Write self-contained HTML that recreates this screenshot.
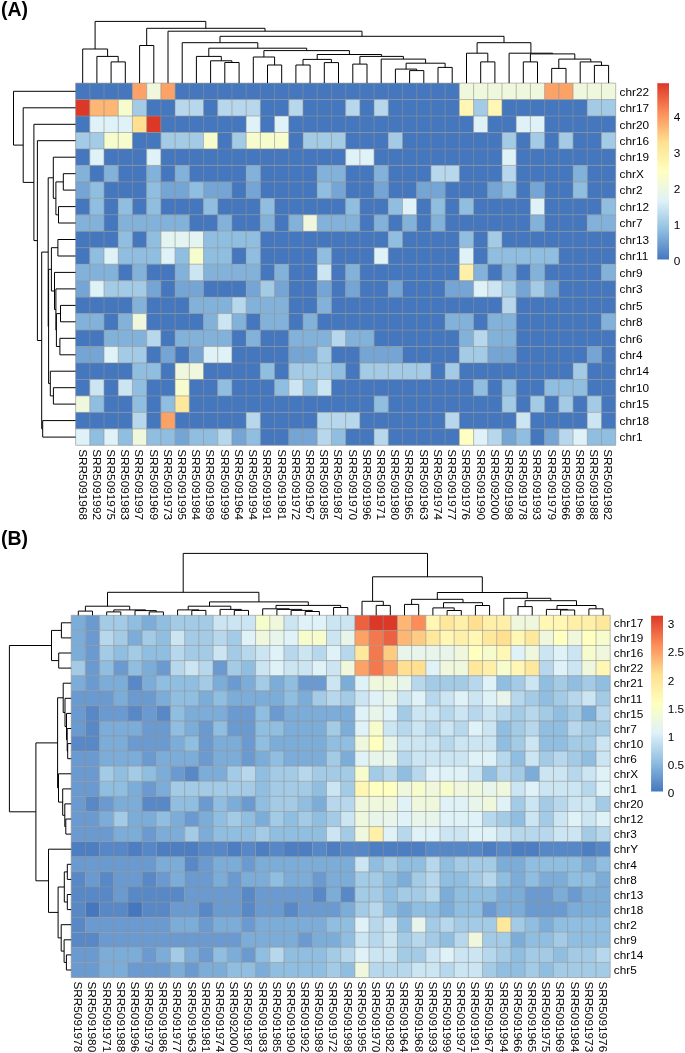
<!DOCTYPE html>
<html><head><meta charset="utf-8"><title>Heatmaps</title>
<style>html,body{margin:0;padding:0;background:#fff}svg{display:block}text{font-family:"Liberation Sans",sans-serif;font-size:11.8px;fill:#000}</style>
</head><body>
<svg width="685" height="1053" viewBox="0 0 685 1053">
<rect width="685" height="1053" fill="#fff"/>
<g opacity="0.999">
<defs><linearGradient id="g" x1="0" y1="1" x2="0" y2="0"><stop offset="0.0000" stop-color="#4577be"/><stop offset="0.1667" stop-color="#8fbee0"/><stop offset="0.3333" stop-color="#dff2f8"/><stop offset="0.5000" stop-color="#ffffbf"/><stop offset="0.6667" stop-color="#fee090"/><stop offset="0.8333" stop-color="#fc8d59"/><stop offset="1.0000" stop-color="#dc3828"/></linearGradient></defs>
<rect x="75.60" y="83.10" width="56.90" height="16.51" fill="#4577be"/>
<rect x="132.45" y="83.10" width="14.26" height="16.51" fill="#fca267"/>
<rect x="146.67" y="83.10" width="14.26" height="16.51" fill="#eff8dc"/>
<rect x="160.88" y="83.10" width="14.26" height="16.51" fill="#fca267"/>
<rect x="175.09" y="83.10" width="284.31" height="16.51" fill="#4577be"/>
<rect x="459.36" y="83.10" width="85.33" height="16.51" fill="#eff8dc"/>
<rect x="544.63" y="83.10" width="28.48" height="16.51" fill="#fca267"/>
<rect x="573.06" y="83.10" width="42.69" height="16.51" fill="#eff8dc"/>
<rect x="75.60" y="99.56" width="14.26" height="16.51" fill="#dc3828"/>
<rect x="89.81" y="99.56" width="28.48" height="16.51" fill="#fdb674"/>
<rect x="118.24" y="99.56" width="14.26" height="16.51" fill="#f7fccd"/>
<rect x="132.45" y="99.56" width="14.26" height="16.51" fill="#a3cbe6"/>
<rect x="146.67" y="99.56" width="28.48" height="16.51" fill="#4577be"/>
<rect x="175.09" y="99.56" width="28.48" height="16.51" fill="#b7d8ec"/>
<rect x="203.52" y="99.56" width="14.26" height="16.51" fill="#4577be"/>
<rect x="217.73" y="99.56" width="42.69" height="16.51" fill="#b7d8ec"/>
<rect x="260.37" y="99.56" width="28.48" height="16.51" fill="#4577be"/>
<rect x="288.80" y="99.56" width="14.26" height="16.51" fill="#b7d8ec"/>
<rect x="303.01" y="99.56" width="42.69" height="16.51" fill="#4577be"/>
<rect x="345.65" y="99.56" width="14.26" height="16.51" fill="#b7d8ec"/>
<rect x="359.86" y="99.56" width="14.26" height="16.51" fill="#4577be"/>
<rect x="374.08" y="99.56" width="14.26" height="16.51" fill="#b7d8ec"/>
<rect x="388.29" y="99.56" width="71.12" height="16.51" fill="#4577be"/>
<rect x="459.36" y="99.56" width="14.26" height="16.51" fill="#fff7b3"/>
<rect x="473.57" y="99.56" width="14.26" height="16.51" fill="#a3cbe6"/>
<rect x="487.78" y="99.56" width="14.26" height="16.51" fill="#fff7b3"/>
<rect x="501.99" y="99.56" width="85.33" height="16.51" fill="#4577be"/>
<rect x="587.27" y="99.56" width="28.48" height="16.51" fill="#a3cbe6"/>
<rect x="75.60" y="116.03" width="14.26" height="16.51" fill="#4577be"/>
<rect x="89.81" y="116.03" width="42.69" height="16.51" fill="#dff2f8"/>
<rect x="132.45" y="116.03" width="14.26" height="16.51" fill="#fee090"/>
<rect x="146.67" y="116.03" width="14.26" height="16.51" fill="#dc3828"/>
<rect x="160.88" y="116.03" width="85.33" height="16.51" fill="#4577be"/>
<rect x="246.16" y="116.03" width="14.26" height="16.51" fill="#dff2f8"/>
<rect x="260.37" y="116.03" width="14.26" height="16.51" fill="#4577be"/>
<rect x="274.58" y="116.03" width="14.26" height="16.51" fill="#dff2f8"/>
<rect x="288.80" y="116.03" width="184.82" height="16.51" fill="#4577be"/>
<rect x="473.57" y="116.03" width="14.26" height="16.51" fill="#dff2f8"/>
<rect x="487.78" y="116.03" width="28.48" height="16.51" fill="#4577be"/>
<rect x="516.21" y="116.03" width="28.48" height="16.51" fill="#dff2f8"/>
<rect x="544.63" y="116.03" width="71.12" height="16.51" fill="#4577be"/>
<rect x="75.60" y="132.49" width="28.48" height="16.51" fill="#a3cbe6"/>
<rect x="104.03" y="132.49" width="28.48" height="16.51" fill="#f7fccd"/>
<rect x="132.45" y="132.49" width="28.48" height="16.51" fill="#4577be"/>
<rect x="160.88" y="132.49" width="42.69" height="16.51" fill="#a3cbe6"/>
<rect x="203.52" y="132.49" width="14.26" height="16.51" fill="#f7fccd"/>
<rect x="217.73" y="132.49" width="14.26" height="16.51" fill="#4577be"/>
<rect x="231.94" y="132.49" width="14.26" height="16.51" fill="#a3cbe6"/>
<rect x="246.16" y="132.49" width="42.69" height="16.51" fill="#f7fccd"/>
<rect x="288.80" y="132.49" width="14.26" height="16.51" fill="#4577be"/>
<rect x="303.01" y="132.49" width="42.69" height="16.51" fill="#a3cbe6"/>
<rect x="345.65" y="132.49" width="42.69" height="16.51" fill="#4577be"/>
<rect x="388.29" y="132.49" width="14.26" height="16.51" fill="#a3cbe6"/>
<rect x="402.50" y="132.49" width="99.54" height="16.51" fill="#4577be"/>
<rect x="501.99" y="132.49" width="14.26" height="16.51" fill="#a3cbe6"/>
<rect x="516.21" y="132.49" width="14.26" height="16.51" fill="#4577be"/>
<rect x="530.42" y="132.49" width="14.26" height="16.51" fill="#a3cbe6"/>
<rect x="544.63" y="132.49" width="14.26" height="16.51" fill="#4577be"/>
<rect x="558.85" y="132.49" width="14.26" height="16.51" fill="#a3cbe6"/>
<rect x="573.06" y="132.49" width="28.48" height="16.51" fill="#4577be"/>
<rect x="601.49" y="132.49" width="14.26" height="16.51" fill="#a3cbe6"/>
<rect x="75.60" y="148.95" width="14.26" height="16.51" fill="#4577be"/>
<rect x="89.81" y="148.95" width="14.26" height="16.51" fill="#dff2f8"/>
<rect x="104.03" y="148.95" width="42.69" height="16.51" fill="#4577be"/>
<rect x="146.67" y="148.95" width="14.26" height="16.51" fill="#dff2f8"/>
<rect x="160.88" y="148.95" width="184.82" height="16.51" fill="#4577be"/>
<rect x="345.65" y="148.95" width="28.48" height="16.51" fill="#dff2f8"/>
<rect x="374.08" y="148.95" width="127.97" height="16.51" fill="#4577be"/>
<rect x="501.99" y="148.95" width="14.26" height="16.51" fill="#dff2f8"/>
<rect x="516.21" y="148.95" width="99.54" height="16.51" fill="#4577be"/>
<rect x="75.60" y="165.42" width="14.26" height="16.51" fill="#82b2da"/>
<rect x="89.81" y="165.42" width="14.26" height="16.51" fill="#4577be"/>
<rect x="104.03" y="165.42" width="14.26" height="16.51" fill="#82b2da"/>
<rect x="118.24" y="165.42" width="28.48" height="16.51" fill="#4577be"/>
<rect x="146.67" y="165.42" width="14.26" height="16.51" fill="#82b2da"/>
<rect x="160.88" y="165.42" width="14.26" height="16.51" fill="#4577be"/>
<rect x="175.09" y="165.42" width="14.26" height="16.51" fill="#82b2da"/>
<rect x="189.31" y="165.42" width="56.90" height="16.51" fill="#4577be"/>
<rect x="246.16" y="165.42" width="14.26" height="16.51" fill="#82b2da"/>
<rect x="260.37" y="165.42" width="56.90" height="16.51" fill="#4577be"/>
<rect x="317.22" y="165.42" width="28.48" height="16.51" fill="#82b2da"/>
<rect x="345.65" y="165.42" width="28.48" height="16.51" fill="#4577be"/>
<rect x="374.08" y="165.42" width="14.26" height="16.51" fill="#82b2da"/>
<rect x="388.29" y="165.42" width="42.69" height="16.51" fill="#4577be"/>
<rect x="430.93" y="165.42" width="28.48" height="16.51" fill="#b7d8ec"/>
<rect x="459.36" y="165.42" width="42.69" height="16.51" fill="#4577be"/>
<rect x="501.99" y="165.42" width="14.26" height="16.51" fill="#b7d8ec"/>
<rect x="516.21" y="165.42" width="56.90" height="16.51" fill="#4577be"/>
<rect x="573.06" y="165.42" width="14.26" height="16.51" fill="#82b2da"/>
<rect x="587.27" y="165.42" width="28.48" height="16.51" fill="#4577be"/>
<rect x="75.60" y="181.88" width="14.26" height="16.51" fill="#75a5d4"/>
<rect x="89.81" y="181.88" width="14.26" height="16.51" fill="#8fbee0"/>
<rect x="104.03" y="181.88" width="42.69" height="16.51" fill="#4577be"/>
<rect x="146.67" y="181.88" width="14.26" height="16.51" fill="#8fbee0"/>
<rect x="160.88" y="181.88" width="28.48" height="16.51" fill="#75a5d4"/>
<rect x="189.31" y="181.88" width="14.26" height="16.51" fill="#8fbee0"/>
<rect x="203.52" y="181.88" width="28.48" height="16.51" fill="#75a5d4"/>
<rect x="231.94" y="181.88" width="14.26" height="16.51" fill="#4577be"/>
<rect x="246.16" y="181.88" width="14.26" height="16.51" fill="#75a5d4"/>
<rect x="260.37" y="181.88" width="56.90" height="16.51" fill="#4577be"/>
<rect x="317.22" y="181.88" width="14.26" height="16.51" fill="#8fbee0"/>
<rect x="331.44" y="181.88" width="14.26" height="16.51" fill="#75a5d4"/>
<rect x="345.65" y="181.88" width="28.48" height="16.51" fill="#4577be"/>
<rect x="374.08" y="181.88" width="14.26" height="16.51" fill="#75a5d4"/>
<rect x="388.29" y="181.88" width="28.48" height="16.51" fill="#4577be"/>
<rect x="416.72" y="181.88" width="28.48" height="16.51" fill="#75a5d4"/>
<rect x="445.14" y="181.88" width="42.69" height="16.51" fill="#4577be"/>
<rect x="487.78" y="181.88" width="14.26" height="16.51" fill="#75a5d4"/>
<rect x="501.99" y="181.88" width="14.26" height="16.51" fill="#8fbee0"/>
<rect x="516.21" y="181.88" width="14.26" height="16.51" fill="#4577be"/>
<rect x="530.42" y="181.88" width="14.26" height="16.51" fill="#75a5d4"/>
<rect x="544.63" y="181.88" width="28.48" height="16.51" fill="#4577be"/>
<rect x="573.06" y="181.88" width="14.26" height="16.51" fill="#8fbee0"/>
<rect x="587.27" y="181.88" width="28.48" height="16.51" fill="#4577be"/>
<rect x="75.60" y="198.35" width="14.26" height="16.51" fill="#4577be"/>
<rect x="89.81" y="198.35" width="14.26" height="16.51" fill="#8fbee0"/>
<rect x="104.03" y="198.35" width="14.26" height="16.51" fill="#4577be"/>
<rect x="118.24" y="198.35" width="14.26" height="16.51" fill="#8fbee0"/>
<rect x="132.45" y="198.35" width="14.26" height="16.51" fill="#4577be"/>
<rect x="146.67" y="198.35" width="14.26" height="16.51" fill="#8fbee0"/>
<rect x="160.88" y="198.35" width="42.69" height="16.51" fill="#4577be"/>
<rect x="203.52" y="198.35" width="14.26" height="16.51" fill="#8fbee0"/>
<rect x="217.73" y="198.35" width="42.69" height="16.51" fill="#4577be"/>
<rect x="260.37" y="198.35" width="14.26" height="16.51" fill="#8fbee0"/>
<rect x="274.58" y="198.35" width="71.12" height="16.51" fill="#4577be"/>
<rect x="345.65" y="198.35" width="14.26" height="16.51" fill="#8fbee0"/>
<rect x="359.86" y="198.35" width="28.48" height="16.51" fill="#4577be"/>
<rect x="388.29" y="198.35" width="14.26" height="16.51" fill="#8fbee0"/>
<rect x="402.50" y="198.35" width="14.26" height="16.51" fill="#dff2f8"/>
<rect x="416.72" y="198.35" width="14.26" height="16.51" fill="#4577be"/>
<rect x="430.93" y="198.35" width="14.26" height="16.51" fill="#8fbee0"/>
<rect x="445.14" y="198.35" width="14.26" height="16.51" fill="#4577be"/>
<rect x="459.36" y="198.35" width="14.26" height="16.51" fill="#8fbee0"/>
<rect x="473.57" y="198.35" width="56.90" height="16.51" fill="#4577be"/>
<rect x="530.42" y="198.35" width="14.26" height="16.51" fill="#dff2f8"/>
<rect x="544.63" y="198.35" width="56.90" height="16.51" fill="#4577be"/>
<rect x="601.49" y="198.35" width="14.26" height="16.51" fill="#8fbee0"/>
<rect x="75.60" y="214.81" width="28.48" height="16.51" fill="#82b2da"/>
<rect x="104.03" y="214.81" width="14.26" height="16.51" fill="#4577be"/>
<rect x="118.24" y="214.81" width="71.12" height="16.51" fill="#82b2da"/>
<rect x="189.31" y="214.81" width="28.48" height="16.51" fill="#4577be"/>
<rect x="217.73" y="214.81" width="14.26" height="16.51" fill="#82b2da"/>
<rect x="231.94" y="214.81" width="28.48" height="16.51" fill="#4577be"/>
<rect x="260.37" y="214.81" width="14.26" height="16.51" fill="#82b2da"/>
<rect x="274.58" y="214.81" width="14.26" height="16.51" fill="#4577be"/>
<rect x="288.80" y="214.81" width="14.26" height="16.51" fill="#82b2da"/>
<rect x="303.01" y="214.81" width="14.26" height="16.51" fill="#eff8dc"/>
<rect x="317.22" y="214.81" width="42.69" height="16.51" fill="#82b2da"/>
<rect x="359.86" y="214.81" width="14.26" height="16.51" fill="#4577be"/>
<rect x="374.08" y="214.81" width="14.26" height="16.51" fill="#82b2da"/>
<rect x="388.29" y="214.81" width="14.26" height="16.51" fill="#4577be"/>
<rect x="402.50" y="214.81" width="14.26" height="16.51" fill="#82b2da"/>
<rect x="416.72" y="214.81" width="14.26" height="16.51" fill="#4577be"/>
<rect x="430.93" y="214.81" width="14.26" height="16.51" fill="#82b2da"/>
<rect x="445.14" y="214.81" width="85.33" height="16.51" fill="#4577be"/>
<rect x="530.42" y="214.81" width="14.26" height="16.51" fill="#82b2da"/>
<rect x="544.63" y="214.81" width="42.69" height="16.51" fill="#4577be"/>
<rect x="587.27" y="214.81" width="28.48" height="16.51" fill="#82b2da"/>
<rect x="75.60" y="231.27" width="42.69" height="16.51" fill="#4577be"/>
<rect x="118.24" y="231.27" width="14.26" height="16.51" fill="#8fbee0"/>
<rect x="132.45" y="231.27" width="14.26" height="16.51" fill="#4577be"/>
<rect x="146.67" y="231.27" width="14.26" height="16.51" fill="#8fbee0"/>
<rect x="160.88" y="231.27" width="42.69" height="16.51" fill="#e3f4f1"/>
<rect x="203.52" y="231.27" width="56.90" height="16.51" fill="#8fbee0"/>
<rect x="260.37" y="231.27" width="127.97" height="16.51" fill="#4577be"/>
<rect x="388.29" y="231.27" width="14.26" height="16.51" fill="#8fbee0"/>
<rect x="402.50" y="231.27" width="56.90" height="16.51" fill="#4577be"/>
<rect x="459.36" y="231.27" width="14.26" height="16.51" fill="#8fbee0"/>
<rect x="473.57" y="231.27" width="14.26" height="16.51" fill="#4577be"/>
<rect x="487.78" y="231.27" width="14.26" height="16.51" fill="#a3cbe6"/>
<rect x="501.99" y="231.27" width="113.76" height="16.51" fill="#4577be"/>
<rect x="75.60" y="247.74" width="14.26" height="16.51" fill="#4577be"/>
<rect x="89.81" y="247.74" width="14.26" height="16.51" fill="#8fbee0"/>
<rect x="104.03" y="247.74" width="14.26" height="16.51" fill="#dff2f8"/>
<rect x="118.24" y="247.74" width="42.69" height="16.51" fill="#8fbee0"/>
<rect x="160.88" y="247.74" width="14.26" height="16.51" fill="#dff2f8"/>
<rect x="175.09" y="247.74" width="14.26" height="16.51" fill="#8fbee0"/>
<rect x="189.31" y="247.74" width="14.26" height="16.51" fill="#f7fccd"/>
<rect x="203.52" y="247.74" width="28.48" height="16.51" fill="#8fbee0"/>
<rect x="231.94" y="247.74" width="14.26" height="16.51" fill="#4577be"/>
<rect x="246.16" y="247.74" width="14.26" height="16.51" fill="#8fbee0"/>
<rect x="260.37" y="247.74" width="56.90" height="16.51" fill="#4577be"/>
<rect x="317.22" y="247.74" width="14.26" height="16.51" fill="#8fbee0"/>
<rect x="331.44" y="247.74" width="42.69" height="16.51" fill="#4577be"/>
<rect x="374.08" y="247.74" width="14.26" height="16.51" fill="#dff2f8"/>
<rect x="388.29" y="247.74" width="71.12" height="16.51" fill="#4577be"/>
<rect x="459.36" y="247.74" width="14.26" height="16.51" fill="#dff2f8"/>
<rect x="473.57" y="247.74" width="14.26" height="16.51" fill="#4577be"/>
<rect x="487.78" y="247.74" width="71.12" height="16.51" fill="#8fbee0"/>
<rect x="558.85" y="247.74" width="56.90" height="16.51" fill="#4577be"/>
<rect x="75.60" y="264.20" width="42.69" height="16.51" fill="#82b2da"/>
<rect x="118.24" y="264.20" width="14.26" height="16.51" fill="#4577be"/>
<rect x="132.45" y="264.20" width="14.26" height="16.51" fill="#82b2da"/>
<rect x="146.67" y="264.20" width="28.48" height="16.51" fill="#4577be"/>
<rect x="175.09" y="264.20" width="14.26" height="16.51" fill="#82b2da"/>
<rect x="189.31" y="264.20" width="14.26" height="16.51" fill="#cbe5f2"/>
<rect x="203.52" y="264.20" width="56.90" height="16.51" fill="#82b2da"/>
<rect x="260.37" y="264.20" width="14.26" height="16.51" fill="#4577be"/>
<rect x="274.58" y="264.20" width="14.26" height="16.51" fill="#82b2da"/>
<rect x="288.80" y="264.20" width="28.48" height="16.51" fill="#4577be"/>
<rect x="317.22" y="264.20" width="14.26" height="16.51" fill="#cbe5f2"/>
<rect x="331.44" y="264.20" width="14.26" height="16.51" fill="#4577be"/>
<rect x="345.65" y="264.20" width="14.26" height="16.51" fill="#82b2da"/>
<rect x="359.86" y="264.20" width="99.54" height="16.51" fill="#4577be"/>
<rect x="459.36" y="264.20" width="14.26" height="16.51" fill="#fef0a8"/>
<rect x="473.57" y="264.20" width="14.26" height="16.51" fill="#82b2da"/>
<rect x="487.78" y="264.20" width="14.26" height="16.51" fill="#4577be"/>
<rect x="501.99" y="264.20" width="14.26" height="16.51" fill="#82b2da"/>
<rect x="516.21" y="264.20" width="14.26" height="16.51" fill="#4577be"/>
<rect x="530.42" y="264.20" width="14.26" height="16.51" fill="#82b2da"/>
<rect x="544.63" y="264.20" width="56.90" height="16.51" fill="#4577be"/>
<rect x="601.49" y="264.20" width="14.26" height="16.51" fill="#82b2da"/>
<rect x="75.60" y="280.66" width="14.26" height="16.51" fill="#75a5d4"/>
<rect x="89.81" y="280.66" width="14.26" height="16.51" fill="#dff2f8"/>
<rect x="104.03" y="280.66" width="42.69" height="16.51" fill="#a3cbe6"/>
<rect x="146.67" y="280.66" width="14.26" height="16.51" fill="#75a5d4"/>
<rect x="160.88" y="280.66" width="14.26" height="16.51" fill="#4577be"/>
<rect x="175.09" y="280.66" width="28.48" height="16.51" fill="#75a5d4"/>
<rect x="203.52" y="280.66" width="42.69" height="16.51" fill="#4577be"/>
<rect x="246.16" y="280.66" width="14.26" height="16.51" fill="#75a5d4"/>
<rect x="260.37" y="280.66" width="14.26" height="16.51" fill="#a3cbe6"/>
<rect x="274.58" y="280.66" width="14.26" height="16.51" fill="#75a5d4"/>
<rect x="288.80" y="280.66" width="28.48" height="16.51" fill="#4577be"/>
<rect x="317.22" y="280.66" width="14.26" height="16.51" fill="#75a5d4"/>
<rect x="331.44" y="280.66" width="14.26" height="16.51" fill="#4577be"/>
<rect x="345.65" y="280.66" width="14.26" height="16.51" fill="#75a5d4"/>
<rect x="359.86" y="280.66" width="28.48" height="16.51" fill="#4577be"/>
<rect x="388.29" y="280.66" width="14.26" height="16.51" fill="#75a5d4"/>
<rect x="402.50" y="280.66" width="42.69" height="16.51" fill="#4577be"/>
<rect x="445.14" y="280.66" width="28.48" height="16.51" fill="#75a5d4"/>
<rect x="473.57" y="280.66" width="14.26" height="16.51" fill="#dff2f8"/>
<rect x="487.78" y="280.66" width="14.26" height="16.51" fill="#cbe5f2"/>
<rect x="501.99" y="280.66" width="14.26" height="16.51" fill="#a3cbe6"/>
<rect x="516.21" y="280.66" width="14.26" height="16.51" fill="#75a5d4"/>
<rect x="530.42" y="280.66" width="14.26" height="16.51" fill="#a3cbe6"/>
<rect x="544.63" y="280.66" width="14.26" height="16.51" fill="#75a5d4"/>
<rect x="558.85" y="280.66" width="56.90" height="16.51" fill="#4577be"/>
<rect x="75.60" y="297.13" width="56.90" height="16.51" fill="#4577be"/>
<rect x="132.45" y="297.13" width="14.26" height="16.51" fill="#82b2da"/>
<rect x="146.67" y="297.13" width="42.69" height="16.51" fill="#4577be"/>
<rect x="189.31" y="297.13" width="42.69" height="16.51" fill="#82b2da"/>
<rect x="231.94" y="297.13" width="14.26" height="16.51" fill="#b7d8ec"/>
<rect x="246.16" y="297.13" width="42.69" height="16.51" fill="#82b2da"/>
<rect x="288.80" y="297.13" width="28.48" height="16.51" fill="#4577be"/>
<rect x="317.22" y="297.13" width="14.26" height="16.51" fill="#82b2da"/>
<rect x="331.44" y="297.13" width="170.61" height="16.51" fill="#4577be"/>
<rect x="501.99" y="297.13" width="14.26" height="16.51" fill="#b7d8ec"/>
<rect x="516.21" y="297.13" width="99.54" height="16.51" fill="#4577be"/>
<rect x="75.60" y="313.59" width="28.48" height="16.51" fill="#82b2da"/>
<rect x="104.03" y="313.59" width="14.26" height="16.51" fill="#4577be"/>
<rect x="118.24" y="313.59" width="14.26" height="16.51" fill="#82b2da"/>
<rect x="132.45" y="313.59" width="14.26" height="16.51" fill="#eff8dc"/>
<rect x="146.67" y="313.59" width="56.90" height="16.51" fill="#4577be"/>
<rect x="203.52" y="313.59" width="14.26" height="16.51" fill="#82b2da"/>
<rect x="217.73" y="313.59" width="14.26" height="16.51" fill="#cbe5f2"/>
<rect x="231.94" y="313.59" width="14.26" height="16.51" fill="#82b2da"/>
<rect x="246.16" y="313.59" width="14.26" height="16.51" fill="#4577be"/>
<rect x="260.37" y="313.59" width="28.48" height="16.51" fill="#82b2da"/>
<rect x="288.80" y="313.59" width="14.26" height="16.51" fill="#4577be"/>
<rect x="303.01" y="313.59" width="14.26" height="16.51" fill="#82b2da"/>
<rect x="317.22" y="313.59" width="127.97" height="16.51" fill="#4577be"/>
<rect x="445.14" y="313.59" width="28.48" height="16.51" fill="#82b2da"/>
<rect x="473.57" y="313.59" width="14.26" height="16.51" fill="#4577be"/>
<rect x="487.78" y="313.59" width="28.48" height="16.51" fill="#82b2da"/>
<rect x="516.21" y="313.59" width="85.33" height="16.51" fill="#4577be"/>
<rect x="601.49" y="313.59" width="14.26" height="16.51" fill="#82b2da"/>
<rect x="75.60" y="330.05" width="28.48" height="16.51" fill="#4577be"/>
<rect x="104.03" y="330.05" width="42.69" height="16.51" fill="#82b2da"/>
<rect x="146.67" y="330.05" width="14.26" height="16.51" fill="#b7d8ec"/>
<rect x="160.88" y="330.05" width="14.26" height="16.51" fill="#4577be"/>
<rect x="175.09" y="330.05" width="56.90" height="16.51" fill="#82b2da"/>
<rect x="231.94" y="330.05" width="14.26" height="16.51" fill="#4577be"/>
<rect x="246.16" y="330.05" width="14.26" height="16.51" fill="#82b2da"/>
<rect x="260.37" y="330.05" width="28.48" height="16.51" fill="#4577be"/>
<rect x="288.80" y="330.05" width="42.69" height="16.51" fill="#82b2da"/>
<rect x="331.44" y="330.05" width="14.26" height="16.51" fill="#b7d8ec"/>
<rect x="345.65" y="330.05" width="28.48" height="16.51" fill="#82b2da"/>
<rect x="374.08" y="330.05" width="85.33" height="16.51" fill="#4577be"/>
<rect x="459.36" y="330.05" width="14.26" height="16.51" fill="#82b2da"/>
<rect x="473.57" y="330.05" width="14.26" height="16.51" fill="#b7d8ec"/>
<rect x="487.78" y="330.05" width="28.48" height="16.51" fill="#82b2da"/>
<rect x="516.21" y="330.05" width="99.54" height="16.51" fill="#4577be"/>
<rect x="75.60" y="346.52" width="28.48" height="16.51" fill="#75a5d4"/>
<rect x="104.03" y="346.52" width="14.26" height="16.51" fill="#dff2f8"/>
<rect x="118.24" y="346.52" width="28.48" height="16.51" fill="#a3cbe6"/>
<rect x="146.67" y="346.52" width="14.26" height="16.51" fill="#4577be"/>
<rect x="160.88" y="346.52" width="14.26" height="16.51" fill="#75a5d4"/>
<rect x="175.09" y="346.52" width="14.26" height="16.51" fill="#4577be"/>
<rect x="189.31" y="346.52" width="14.26" height="16.51" fill="#75a5d4"/>
<rect x="203.52" y="346.52" width="28.48" height="16.51" fill="#dff2f8"/>
<rect x="231.94" y="346.52" width="56.90" height="16.51" fill="#4577be"/>
<rect x="288.80" y="346.52" width="28.48" height="16.51" fill="#75a5d4"/>
<rect x="317.22" y="346.52" width="14.26" height="16.51" fill="#a3cbe6"/>
<rect x="331.44" y="346.52" width="28.48" height="16.51" fill="#4577be"/>
<rect x="359.86" y="346.52" width="42.69" height="16.51" fill="#75a5d4"/>
<rect x="402.50" y="346.52" width="56.90" height="16.51" fill="#4577be"/>
<rect x="459.36" y="346.52" width="28.48" height="16.51" fill="#a3cbe6"/>
<rect x="487.78" y="346.52" width="28.48" height="16.51" fill="#75a5d4"/>
<rect x="516.21" y="346.52" width="71.12" height="16.51" fill="#4577be"/>
<rect x="587.27" y="346.52" width="14.26" height="16.51" fill="#75a5d4"/>
<rect x="601.49" y="346.52" width="14.26" height="16.51" fill="#4577be"/>
<rect x="75.60" y="362.98" width="56.90" height="16.51" fill="#4577be"/>
<rect x="132.45" y="362.98" width="28.48" height="16.51" fill="#8fbee0"/>
<rect x="160.88" y="362.98" width="14.26" height="16.51" fill="#4577be"/>
<rect x="175.09" y="362.98" width="28.48" height="16.51" fill="#eff8dc"/>
<rect x="203.52" y="362.98" width="56.90" height="16.51" fill="#4577be"/>
<rect x="260.37" y="362.98" width="14.26" height="16.51" fill="#8fbee0"/>
<rect x="274.58" y="362.98" width="14.26" height="16.51" fill="#4577be"/>
<rect x="288.80" y="362.98" width="42.69" height="16.51" fill="#a3cbe6"/>
<rect x="331.44" y="362.98" width="14.26" height="16.51" fill="#8fbee0"/>
<rect x="345.65" y="362.98" width="14.26" height="16.51" fill="#4577be"/>
<rect x="359.86" y="362.98" width="71.12" height="16.51" fill="#a3cbe6"/>
<rect x="430.93" y="362.98" width="14.26" height="16.51" fill="#4577be"/>
<rect x="445.14" y="362.98" width="14.26" height="16.51" fill="#a3cbe6"/>
<rect x="459.36" y="362.98" width="113.76" height="16.51" fill="#4577be"/>
<rect x="573.06" y="362.98" width="14.26" height="16.51" fill="#a3cbe6"/>
<rect x="587.27" y="362.98" width="28.48" height="16.51" fill="#4577be"/>
<rect x="75.60" y="379.45" width="14.26" height="16.51" fill="#4577be"/>
<rect x="89.81" y="379.45" width="14.26" height="16.51" fill="#cbe5f2"/>
<rect x="104.03" y="379.45" width="14.26" height="16.51" fill="#4577be"/>
<rect x="118.24" y="379.45" width="14.26" height="16.51" fill="#cbe5f2"/>
<rect x="132.45" y="379.45" width="14.26" height="16.51" fill="#8fbee0"/>
<rect x="146.67" y="379.45" width="28.48" height="16.51" fill="#4577be"/>
<rect x="175.09" y="379.45" width="14.26" height="16.51" fill="#f7fccd"/>
<rect x="189.31" y="379.45" width="28.48" height="16.51" fill="#4577be"/>
<rect x="217.73" y="379.45" width="14.26" height="16.51" fill="#8fbee0"/>
<rect x="231.94" y="379.45" width="42.69" height="16.51" fill="#4577be"/>
<rect x="274.58" y="379.45" width="14.26" height="16.51" fill="#8fbee0"/>
<rect x="288.80" y="379.45" width="14.26" height="16.51" fill="#cbe5f2"/>
<rect x="303.01" y="379.45" width="14.26" height="16.51" fill="#8fbee0"/>
<rect x="317.22" y="379.45" width="14.26" height="16.51" fill="#cbe5f2"/>
<rect x="331.44" y="379.45" width="142.18" height="16.51" fill="#4577be"/>
<rect x="473.57" y="379.45" width="14.26" height="16.51" fill="#8fbee0"/>
<rect x="487.78" y="379.45" width="14.26" height="16.51" fill="#4577be"/>
<rect x="501.99" y="379.45" width="14.26" height="16.51" fill="#8fbee0"/>
<rect x="516.21" y="379.45" width="28.48" height="16.51" fill="#4577be"/>
<rect x="544.63" y="379.45" width="42.69" height="16.51" fill="#8fbee0"/>
<rect x="587.27" y="379.45" width="28.48" height="16.51" fill="#4577be"/>
<rect x="75.60" y="395.91" width="14.26" height="16.51" fill="#eff8dc"/>
<rect x="89.81" y="395.91" width="14.26" height="16.51" fill="#8fbee0"/>
<rect x="104.03" y="395.91" width="28.48" height="16.51" fill="#4577be"/>
<rect x="132.45" y="395.91" width="14.26" height="16.51" fill="#8fbee0"/>
<rect x="146.67" y="395.91" width="14.26" height="16.51" fill="#4577be"/>
<rect x="160.88" y="395.91" width="14.26" height="16.51" fill="#8fbee0"/>
<rect x="175.09" y="395.91" width="14.26" height="16.51" fill="#fee89c"/>
<rect x="189.31" y="395.91" width="184.82" height="16.51" fill="#4577be"/>
<rect x="374.08" y="395.91" width="14.26" height="16.51" fill="#8fbee0"/>
<rect x="388.29" y="395.91" width="113.76" height="16.51" fill="#4577be"/>
<rect x="501.99" y="395.91" width="14.26" height="16.51" fill="#a3cbe6"/>
<rect x="516.21" y="395.91" width="14.26" height="16.51" fill="#4577be"/>
<rect x="530.42" y="395.91" width="14.26" height="16.51" fill="#a3cbe6"/>
<rect x="544.63" y="395.91" width="14.26" height="16.51" fill="#4577be"/>
<rect x="558.85" y="395.91" width="14.26" height="16.51" fill="#a3cbe6"/>
<rect x="573.06" y="395.91" width="14.26" height="16.51" fill="#4577be"/>
<rect x="587.27" y="395.91" width="14.26" height="16.51" fill="#a3cbe6"/>
<rect x="601.49" y="395.91" width="14.26" height="16.51" fill="#4577be"/>
<rect x="75.60" y="412.37" width="56.90" height="16.51" fill="#4577be"/>
<rect x="132.45" y="412.37" width="14.26" height="16.51" fill="#b7d8ec"/>
<rect x="146.67" y="412.37" width="14.26" height="16.51" fill="#4577be"/>
<rect x="160.88" y="412.37" width="14.26" height="16.51" fill="#fca267"/>
<rect x="175.09" y="412.37" width="71.12" height="16.51" fill="#4577be"/>
<rect x="246.16" y="412.37" width="14.26" height="16.51" fill="#b7d8ec"/>
<rect x="260.37" y="412.37" width="56.90" height="16.51" fill="#4577be"/>
<rect x="317.22" y="412.37" width="42.69" height="16.51" fill="#b7d8ec"/>
<rect x="359.86" y="412.37" width="85.33" height="16.51" fill="#4577be"/>
<rect x="445.14" y="412.37" width="14.26" height="16.51" fill="#b7d8ec"/>
<rect x="459.36" y="412.37" width="56.90" height="16.51" fill="#4577be"/>
<rect x="516.21" y="412.37" width="14.26" height="16.51" fill="#cbe5f2"/>
<rect x="530.42" y="412.37" width="56.90" height="16.51" fill="#4577be"/>
<rect x="587.27" y="412.37" width="14.26" height="16.51" fill="#cbe5f2"/>
<rect x="601.49" y="412.37" width="14.26" height="16.51" fill="#4577be"/>
<rect x="75.60" y="428.84" width="14.26" height="16.51" fill="#dff2f8"/>
<rect x="89.81" y="428.84" width="14.26" height="16.51" fill="#8fbee0"/>
<rect x="104.03" y="428.84" width="14.26" height="16.51" fill="#dff2f8"/>
<rect x="118.24" y="428.84" width="14.26" height="16.51" fill="#8fbee0"/>
<rect x="132.45" y="428.84" width="14.26" height="16.51" fill="#eff8dc"/>
<rect x="146.67" y="428.84" width="28.48" height="16.51" fill="#8fbee0"/>
<rect x="175.09" y="428.84" width="14.26" height="16.51" fill="#75a5d4"/>
<rect x="189.31" y="428.84" width="28.48" height="16.51" fill="#8fbee0"/>
<rect x="217.73" y="428.84" width="14.26" height="16.51" fill="#b7d8ec"/>
<rect x="231.94" y="428.84" width="14.26" height="16.51" fill="#75a5d4"/>
<rect x="246.16" y="428.84" width="14.26" height="16.51" fill="#8fbee0"/>
<rect x="260.37" y="428.84" width="28.48" height="16.51" fill="#4577be"/>
<rect x="288.80" y="428.84" width="28.48" height="16.51" fill="#75a5d4"/>
<rect x="317.22" y="428.84" width="14.26" height="16.51" fill="#b7d8ec"/>
<rect x="331.44" y="428.84" width="14.26" height="16.51" fill="#8fbee0"/>
<rect x="345.65" y="428.84" width="28.48" height="16.51" fill="#4577be"/>
<rect x="374.08" y="428.84" width="14.26" height="16.51" fill="#b7d8ec"/>
<rect x="388.29" y="428.84" width="71.12" height="16.51" fill="#4577be"/>
<rect x="459.36" y="428.84" width="14.26" height="16.51" fill="#ffffbf"/>
<rect x="473.57" y="428.84" width="14.26" height="16.51" fill="#dff2f8"/>
<rect x="487.78" y="428.84" width="14.26" height="16.51" fill="#b7d8ec"/>
<rect x="501.99" y="428.84" width="14.26" height="16.51" fill="#75a5d4"/>
<rect x="516.21" y="428.84" width="14.26" height="16.51" fill="#8fbee0"/>
<rect x="530.42" y="428.84" width="14.26" height="16.51" fill="#4577be"/>
<rect x="544.63" y="428.84" width="14.26" height="16.51" fill="#75a5d4"/>
<rect x="558.85" y="428.84" width="14.26" height="16.51" fill="#b7d8ec"/>
<rect x="573.06" y="428.84" width="14.26" height="16.51" fill="#dff2f8"/>
<rect x="587.27" y="428.84" width="28.48" height="16.51" fill="#8fbee0"/>
<path d="M75.60 83.10V445.30M89.81 83.10V445.30M104.03 83.10V445.30M118.24 83.10V445.30M132.45 83.10V445.30M146.67 83.10V445.30M160.88 83.10V445.30M175.09 83.10V445.30M189.31 83.10V445.30M203.52 83.10V445.30M217.73 83.10V445.30M231.94 83.10V445.30M246.16 83.10V445.30M260.37 83.10V445.30M274.58 83.10V445.30M288.80 83.10V445.30M303.01 83.10V445.30M317.22 83.10V445.30M331.44 83.10V445.30M345.65 83.10V445.30M359.86 83.10V445.30M374.08 83.10V445.30M388.29 83.10V445.30M402.50 83.10V445.30M416.72 83.10V445.30M430.93 83.10V445.30M445.14 83.10V445.30M459.36 83.10V445.30M473.57 83.10V445.30M487.78 83.10V445.30M501.99 83.10V445.30M516.21 83.10V445.30M530.42 83.10V445.30M544.63 83.10V445.30M558.85 83.10V445.30M573.06 83.10V445.30M587.27 83.10V445.30M601.49 83.10V445.30M615.70 83.10V445.30M75.60 83.10H615.70M75.60 99.56H615.70M75.60 116.03H615.70M75.60 132.49H615.70M75.60 148.95H615.70M75.60 165.42H615.70M75.60 181.88H615.70M75.60 198.35H615.70M75.60 214.81H615.70M75.60 231.27H615.70M75.60 247.74H615.70M75.60 264.20H615.70M75.60 280.66H615.70M75.60 297.13H615.70M75.60 313.59H615.70M75.60 330.05H615.70M75.60 346.52H615.70M75.60 362.98H615.70M75.60 379.45H615.70M75.60 395.91H615.70M75.60 412.37H615.70M75.60 428.84H615.70M75.60 445.30H615.70" stroke="#919191" stroke-width="0.6" fill="none"/>
<path d="M111.1 83.1V61.9H125.3V83.1M96.9 83.1V56.4H118.2V61.9M82.7 83.1V49.0H107.6V56.4M139.6 83.1V45.5H153.8V83.1M224.8 83.1V62.5H239.1V83.1M210.6 83.1V60.8H231.9V62.5M196.4 83.1V56.4H221.3V60.8M267.5 83.1V65.0H281.7V83.1M253.3 83.1V57.0H274.6V65.0M295.9 83.1V65.0H310.1V83.1M324.3 83.1V62.6H338.5V83.1M303.0 65.0V59.4H331.4V62.6M352.8 83.1V64.1H367.0V83.1M409.6 83.1V70.6H423.8V83.1M395.4 83.1V69.1H416.7V70.6M438.0 83.1V67.4H452.2V83.1M406.1 69.1V63.2H445.1V67.4M381.2 83.1V59.1H425.6V63.2M359.9 64.1V56.4H403.4V59.1M317.2 59.4V54.5H381.6V56.4M263.9 57.0V50.6H349.4V54.5M208.8 56.4V48.2H306.7V50.6M182.2 83.1V42.7H257.8V48.2M480.7 83.1V61.9H494.9V83.1M466.5 83.1V53.2H487.8V61.9M523.3 83.1V61.9H537.5V83.1M551.7 83.1V68.4H566.0V83.1M594.4 83.1V65.4H608.6V83.1M580.2 83.1V61.9H601.5V65.4M558.8 68.4V59.1H590.8V61.9M530.4 61.9V53.9H574.8V59.1M509.1 83.1V53.2H552.6V53.9M477.1 53.2V42.7H530.9V53.2M220.0 42.7V36.3H504.0V42.7M168.0 83.1V31.2H362.0V36.3M146.7 45.5V28.3H265.0V31.2M95.1 49.0V21.4H205.8V28.3" stroke="#000" stroke-width="1" fill="none" stroke-linejoin="miter"/>
<path d="M75.6 173.7H63.3V190.1H75.6M75.6 206.6H58.5V223.0H75.6M63.3 181.9H55.9V214.8H58.5M75.6 157.2H53.3V198.3H55.9M75.6 239.5H57.9V256.0H75.6M75.6 305.4H60.5V321.8H75.6M75.6 338.3H59.9V354.8H75.6M60.5 313.6H56.4V346.5H59.9M75.6 288.9H55.9V330.1H56.4M75.6 272.4H54.5V309.5H55.9M57.9 247.7H51.4V291.0H54.5M75.6 387.7H53.4V404.1H75.6M75.6 371.2H50.3V395.9H53.4M51.4 269.3H48.6V383.6H50.3M53.3 177.8H48.2V326.5H48.6M75.6 420.6H42.7V437.1H75.6M48.2 252.1H41.7V428.8H42.7M75.6 140.7H37.4V340.5H41.7M75.6 124.3H33.9V240.6H37.4M75.6 107.8H23.2V182.4H33.9M75.6 91.3H13.5V145.1H23.2" stroke="#000" stroke-width="1" fill="none"/>
<text x="619.6" y="95.5">chr22</text>
<text x="619.6" y="112.0">chr17</text>
<text x="619.6" y="128.5">chr20</text>
<text x="619.6" y="144.9">chr16</text>
<text x="619.6" y="161.4">chr19</text>
<text x="619.6" y="177.8">chrX</text>
<text x="619.6" y="194.3">chr2</text>
<text x="619.6" y="210.8">chr12</text>
<text x="619.6" y="227.2">chr7</text>
<text x="619.6" y="243.7">chr13</text>
<text x="619.6" y="260.2">chr11</text>
<text x="619.6" y="276.6">chr9</text>
<text x="619.6" y="293.1">chr3</text>
<text x="619.6" y="309.6">chr5</text>
<text x="619.6" y="326.0">chr8</text>
<text x="619.6" y="342.5">chr6</text>
<text x="619.6" y="358.9">chr4</text>
<text x="619.6" y="375.4">chr14</text>
<text x="619.6" y="391.9">chr10</text>
<text x="619.6" y="408.3">chr15</text>
<text x="619.6" y="424.8">chr18</text>
<text x="619.6" y="441.3">chr1</text>
<text transform="translate(78.5 449.2) rotate(90)">SRR5091968</text>
<text transform="translate(92.7 449.2) rotate(90)">SRR5091992</text>
<text transform="translate(106.9 449.2) rotate(90)">SRR5091975</text>
<text transform="translate(121.1 449.2) rotate(90)">SRR5091983</text>
<text transform="translate(135.4 449.2) rotate(90)">SRR5091997</text>
<text transform="translate(149.6 449.2) rotate(90)">SRR5091969</text>
<text transform="translate(163.8 449.2) rotate(90)">SRR5091973</text>
<text transform="translate(178.0 449.2) rotate(90)">SRR5091995</text>
<text transform="translate(192.2 449.2) rotate(90)">SRR5091984</text>
<text transform="translate(206.4 449.2) rotate(90)">SRR5091989</text>
<text transform="translate(220.6 449.2) rotate(90)">SRR5091999</text>
<text transform="translate(234.9 449.2) rotate(90)">SRR5091964</text>
<text transform="translate(249.1 449.2) rotate(90)">SRR5091994</text>
<text transform="translate(263.3 449.2) rotate(90)">SRR5091991</text>
<text transform="translate(277.5 449.2) rotate(90)">SRR5091981</text>
<text transform="translate(291.7 449.2) rotate(90)">SRR5091972</text>
<text transform="translate(305.9 449.2) rotate(90)">SRR5091967</text>
<text transform="translate(320.1 449.2) rotate(90)">SRR5091985</text>
<text transform="translate(334.3 449.2) rotate(90)">SRR5091987</text>
<text transform="translate(348.6 449.2) rotate(90)">SRR5091970</text>
<text transform="translate(362.8 449.2) rotate(90)">SRR5091996</text>
<text transform="translate(377.0 449.2) rotate(90)">SRR5091971</text>
<text transform="translate(391.2 449.2) rotate(90)">SRR5091980</text>
<text transform="translate(405.4 449.2) rotate(90)">SRR5091965</text>
<text transform="translate(419.6 449.2) rotate(90)">SRR5091963</text>
<text transform="translate(433.8 449.2) rotate(90)">SRR5091974</text>
<text transform="translate(448.0 449.2) rotate(90)">SRR5091977</text>
<text transform="translate(462.3 449.2) rotate(90)">SRR5091976</text>
<text transform="translate(476.5 449.2) rotate(90)">SRR5091990</text>
<text transform="translate(490.7 449.2) rotate(90)">SRR5092000</text>
<text transform="translate(504.9 449.2) rotate(90)">SRR5091998</text>
<text transform="translate(519.1 449.2) rotate(90)">SRR5091978</text>
<text transform="translate(533.3 449.2) rotate(90)">SRR5091993</text>
<text transform="translate(547.5 449.2) rotate(90)">SRR5091979</text>
<text transform="translate(561.8 449.2) rotate(90)">SRR5091966</text>
<text transform="translate(576.0 449.2) rotate(90)">SRR5091986</text>
<text transform="translate(590.2 449.2) rotate(90)">SRR5091988</text>
<text transform="translate(604.4 449.2) rotate(90)">SRR5091982</text>
<rect x="71.20" y="615.30" width="14.23" height="15.14" fill="#7cacd8"/>
<rect x="85.38" y="615.30" width="14.23" height="15.14" fill="#6a9acf"/>
<rect x="99.57" y="615.30" width="28.42" height="15.14" fill="#a3cbe6"/>
<rect x="127.94" y="615.30" width="14.23" height="15.14" fill="#8fbee0"/>
<rect x="142.12" y="615.30" width="14.23" height="15.14" fill="#7cacd8"/>
<rect x="156.31" y="615.30" width="14.23" height="15.14" fill="#8fbee0"/>
<rect x="170.49" y="615.30" width="42.60" height="15.14" fill="#a3cbe6"/>
<rect x="213.04" y="615.30" width="42.60" height="15.14" fill="#cbe5f2"/>
<rect x="255.59" y="615.30" width="14.23" height="15.14" fill="#f7fccd"/>
<rect x="269.78" y="615.30" width="14.23" height="15.14" fill="#eff8dc"/>
<rect x="283.96" y="615.30" width="14.23" height="15.14" fill="#cbe5f2"/>
<rect x="298.15" y="615.30" width="28.42" height="15.14" fill="#dff2f8"/>
<rect x="326.52" y="615.30" width="28.42" height="15.14" fill="#cbe5f2"/>
<rect x="354.88" y="615.30" width="14.23" height="15.14" fill="#ec6240"/>
<rect x="369.07" y="615.30" width="28.42" height="15.14" fill="#dc3828"/>
<rect x="397.44" y="615.30" width="14.23" height="15.14" fill="#fdb674"/>
<rect x="411.62" y="615.30" width="14.23" height="15.14" fill="#fc8d59"/>
<rect x="425.81" y="615.30" width="14.23" height="15.14" fill="#fff7b3"/>
<rect x="439.99" y="615.30" width="14.23" height="15.14" fill="#fee89c"/>
<rect x="454.17" y="615.30" width="14.23" height="15.14" fill="#fef0a8"/>
<rect x="468.36" y="615.30" width="14.23" height="15.14" fill="#fee090"/>
<rect x="482.54" y="615.30" width="28.42" height="15.14" fill="#fef0a8"/>
<rect x="510.91" y="615.30" width="28.42" height="15.14" fill="#eff8dc"/>
<rect x="539.28" y="615.30" width="28.42" height="15.14" fill="#fff7b3"/>
<rect x="567.65" y="615.30" width="28.42" height="15.14" fill="#fef0a8"/>
<rect x="596.02" y="615.30" width="14.23" height="15.14" fill="#fee89c"/>
<rect x="71.20" y="630.39" width="14.23" height="15.14" fill="#7cacd8"/>
<rect x="85.38" y="630.39" width="14.23" height="15.14" fill="#6a9acf"/>
<rect x="99.57" y="630.39" width="14.23" height="15.14" fill="#b7d8ec"/>
<rect x="113.75" y="630.39" width="14.23" height="15.14" fill="#a3cbe6"/>
<rect x="127.94" y="630.39" width="14.23" height="15.14" fill="#7cacd8"/>
<rect x="142.12" y="630.39" width="14.23" height="15.14" fill="#a3cbe6"/>
<rect x="156.31" y="630.39" width="14.23" height="15.14" fill="#8fbee0"/>
<rect x="170.49" y="630.39" width="14.23" height="15.14" fill="#cbe5f2"/>
<rect x="184.67" y="630.39" width="28.42" height="15.14" fill="#a3cbe6"/>
<rect x="213.04" y="630.39" width="14.23" height="15.14" fill="#b7d8ec"/>
<rect x="227.23" y="630.39" width="14.23" height="15.14" fill="#a3cbe6"/>
<rect x="241.41" y="630.39" width="14.23" height="15.14" fill="#dff2f8"/>
<rect x="255.59" y="630.39" width="14.23" height="15.14" fill="#eff8dc"/>
<rect x="269.78" y="630.39" width="14.23" height="15.14" fill="#e7f5ea"/>
<rect x="283.96" y="630.39" width="14.23" height="15.14" fill="#dff2f8"/>
<rect x="298.15" y="630.39" width="28.42" height="15.14" fill="#f7fccd"/>
<rect x="326.52" y="630.39" width="14.23" height="15.14" fill="#cbe5f2"/>
<rect x="340.70" y="630.39" width="14.23" height="15.14" fill="#e7f5ea"/>
<rect x="354.88" y="630.39" width="14.23" height="15.14" fill="#fca267"/>
<rect x="369.07" y="630.39" width="14.23" height="15.14" fill="#f4784d"/>
<rect x="383.25" y="630.39" width="14.23" height="15.14" fill="#ec6240"/>
<rect x="397.44" y="630.39" width="14.23" height="15.14" fill="#fdb674"/>
<rect x="411.62" y="630.39" width="14.23" height="15.14" fill="#fecb82"/>
<rect x="425.81" y="630.39" width="14.23" height="15.14" fill="#fee89c"/>
<rect x="439.99" y="630.39" width="14.23" height="15.14" fill="#fff7b3"/>
<rect x="454.17" y="630.39" width="14.23" height="15.14" fill="#fef0a8"/>
<rect x="468.36" y="630.39" width="14.23" height="15.14" fill="#fff7b3"/>
<rect x="482.54" y="630.39" width="14.23" height="15.14" fill="#fee89c"/>
<rect x="496.73" y="630.39" width="14.23" height="15.14" fill="#fee090"/>
<rect x="510.91" y="630.39" width="14.23" height="15.14" fill="#fff7b3"/>
<rect x="525.09" y="630.39" width="14.23" height="15.14" fill="#fee89c"/>
<rect x="539.28" y="630.39" width="14.23" height="15.14" fill="#eff8dc"/>
<rect x="553.46" y="630.39" width="14.23" height="15.14" fill="#ffffbf"/>
<rect x="567.65" y="630.39" width="14.23" height="15.14" fill="#eff8dc"/>
<rect x="581.83" y="630.39" width="14.23" height="15.14" fill="#ffffbf"/>
<rect x="596.02" y="630.39" width="14.23" height="15.14" fill="#f7fccd"/>
<rect x="71.20" y="645.48" width="14.23" height="15.14" fill="#7cacd8"/>
<rect x="85.38" y="645.48" width="14.23" height="15.14" fill="#6a9acf"/>
<rect x="99.57" y="645.48" width="14.23" height="15.14" fill="#a3cbe6"/>
<rect x="113.75" y="645.48" width="14.23" height="15.14" fill="#8fbee0"/>
<rect x="127.94" y="645.48" width="14.23" height="15.14" fill="#a3cbe6"/>
<rect x="142.12" y="645.48" width="28.42" height="15.14" fill="#8fbee0"/>
<rect x="170.49" y="645.48" width="14.23" height="15.14" fill="#b7d8ec"/>
<rect x="184.67" y="645.48" width="28.42" height="15.14" fill="#a3cbe6"/>
<rect x="213.04" y="645.48" width="14.23" height="15.14" fill="#cbe5f2"/>
<rect x="227.23" y="645.48" width="14.23" height="15.14" fill="#a3cbe6"/>
<rect x="241.41" y="645.48" width="14.23" height="15.14" fill="#b7d8ec"/>
<rect x="255.59" y="645.48" width="14.23" height="15.14" fill="#cbe5f2"/>
<rect x="269.78" y="645.48" width="14.23" height="15.14" fill="#dff2f8"/>
<rect x="283.96" y="645.48" width="14.23" height="15.14" fill="#b7d8ec"/>
<rect x="298.15" y="645.48" width="14.23" height="15.14" fill="#cbe5f2"/>
<rect x="312.33" y="645.48" width="14.23" height="15.14" fill="#b7d8ec"/>
<rect x="326.52" y="645.48" width="14.23" height="15.14" fill="#dff2f8"/>
<rect x="340.70" y="645.48" width="14.23" height="15.14" fill="#b7d8ec"/>
<rect x="354.88" y="645.48" width="14.23" height="15.14" fill="#fee89c"/>
<rect x="369.07" y="645.48" width="14.23" height="15.14" fill="#f4784d"/>
<rect x="383.25" y="645.48" width="14.23" height="15.14" fill="#fecb82"/>
<rect x="397.44" y="645.48" width="56.79" height="15.14" fill="#e7f5ea"/>
<rect x="454.17" y="645.48" width="14.23" height="15.14" fill="#eff8dc"/>
<rect x="468.36" y="645.48" width="14.23" height="15.14" fill="#ffffbf"/>
<rect x="482.54" y="645.48" width="14.23" height="15.14" fill="#f7fccd"/>
<rect x="496.73" y="645.48" width="14.23" height="15.14" fill="#fff7b3"/>
<rect x="510.91" y="645.48" width="14.23" height="15.14" fill="#dff2f8"/>
<rect x="525.09" y="645.48" width="14.23" height="15.14" fill="#eff8dc"/>
<rect x="539.28" y="645.48" width="14.23" height="15.14" fill="#cbe5f2"/>
<rect x="553.46" y="645.48" width="14.23" height="15.14" fill="#dff2f8"/>
<rect x="567.65" y="645.48" width="14.23" height="15.14" fill="#cbe5f2"/>
<rect x="581.83" y="645.48" width="14.23" height="15.14" fill="#f7fccd"/>
<rect x="596.02" y="645.48" width="14.23" height="15.14" fill="#eff8dc"/>
<rect x="71.20" y="660.57" width="14.23" height="15.14" fill="#a3cbe6"/>
<rect x="85.38" y="660.57" width="14.23" height="15.14" fill="#6a9acf"/>
<rect x="99.57" y="660.57" width="14.23" height="15.14" fill="#8fbee0"/>
<rect x="113.75" y="660.57" width="14.23" height="15.14" fill="#6a9acf"/>
<rect x="127.94" y="660.57" width="14.23" height="15.14" fill="#8fbee0"/>
<rect x="142.12" y="660.57" width="14.23" height="15.14" fill="#7cacd8"/>
<rect x="156.31" y="660.57" width="14.23" height="15.14" fill="#6a9acf"/>
<rect x="170.49" y="660.57" width="14.23" height="15.14" fill="#b7d8ec"/>
<rect x="184.67" y="660.57" width="14.23" height="15.14" fill="#cbe5f2"/>
<rect x="198.86" y="660.57" width="14.23" height="15.14" fill="#b7d8ec"/>
<rect x="213.04" y="660.57" width="14.23" height="15.14" fill="#6a9acf"/>
<rect x="227.23" y="660.57" width="14.23" height="15.14" fill="#a3cbe6"/>
<rect x="241.41" y="660.57" width="14.23" height="15.14" fill="#8fbee0"/>
<rect x="255.59" y="660.57" width="14.23" height="15.14" fill="#cbe5f2"/>
<rect x="269.78" y="660.57" width="14.23" height="15.14" fill="#dff2f8"/>
<rect x="283.96" y="660.57" width="28.42" height="15.14" fill="#cbe5f2"/>
<rect x="312.33" y="660.57" width="14.23" height="15.14" fill="#dff2f8"/>
<rect x="326.52" y="660.57" width="14.23" height="15.14" fill="#cbe5f2"/>
<rect x="340.70" y="660.57" width="14.23" height="15.14" fill="#eff8dc"/>
<rect x="354.88" y="660.57" width="14.23" height="15.14" fill="#fca267"/>
<rect x="369.07" y="660.57" width="14.23" height="15.14" fill="#f4784d"/>
<rect x="383.25" y="660.57" width="14.23" height="15.14" fill="#fca267"/>
<rect x="397.44" y="660.57" width="28.42" height="15.14" fill="#fee090"/>
<rect x="425.81" y="660.57" width="14.23" height="15.14" fill="#dff2f8"/>
<rect x="439.99" y="660.57" width="28.42" height="15.14" fill="#eff8dc"/>
<rect x="468.36" y="660.57" width="14.23" height="15.14" fill="#fee89c"/>
<rect x="482.54" y="660.57" width="14.23" height="15.14" fill="#fef0a8"/>
<rect x="496.73" y="660.57" width="14.23" height="15.14" fill="#f7fccd"/>
<rect x="510.91" y="660.57" width="14.23" height="15.14" fill="#fff7b3"/>
<rect x="525.09" y="660.57" width="14.23" height="15.14" fill="#fee89c"/>
<rect x="539.28" y="660.57" width="14.23" height="15.14" fill="#b7d8ec"/>
<rect x="553.46" y="660.57" width="14.23" height="15.14" fill="#dff2f8"/>
<rect x="567.65" y="660.57" width="14.23" height="15.14" fill="#cbe5f2"/>
<rect x="581.83" y="660.57" width="14.23" height="15.14" fill="#eff8dc"/>
<rect x="596.02" y="660.57" width="14.23" height="15.14" fill="#fff7b3"/>
<rect x="71.20" y="675.67" width="14.23" height="15.14" fill="#7cacd8"/>
<rect x="85.38" y="675.67" width="14.23" height="15.14" fill="#6a9acf"/>
<rect x="99.57" y="675.67" width="28.42" height="15.14" fill="#7cacd8"/>
<rect x="127.94" y="675.67" width="14.23" height="15.14" fill="#5889c6"/>
<rect x="142.12" y="675.67" width="14.23" height="15.14" fill="#7cacd8"/>
<rect x="156.31" y="675.67" width="42.60" height="15.14" fill="#8fbee0"/>
<rect x="198.86" y="675.67" width="14.23" height="15.14" fill="#a3cbe6"/>
<rect x="213.04" y="675.67" width="14.23" height="15.14" fill="#7cacd8"/>
<rect x="227.23" y="675.67" width="14.23" height="15.14" fill="#6a9acf"/>
<rect x="241.41" y="675.67" width="14.23" height="15.14" fill="#7cacd8"/>
<rect x="255.59" y="675.67" width="14.23" height="15.14" fill="#a3cbe6"/>
<rect x="269.78" y="675.67" width="14.23" height="15.14" fill="#7cacd8"/>
<rect x="283.96" y="675.67" width="14.23" height="15.14" fill="#8fbee0"/>
<rect x="298.15" y="675.67" width="28.42" height="15.14" fill="#6a9acf"/>
<rect x="326.52" y="675.67" width="14.23" height="15.14" fill="#cbe5f2"/>
<rect x="340.70" y="675.67" width="14.23" height="15.14" fill="#7cacd8"/>
<rect x="354.88" y="675.67" width="14.23" height="15.14" fill="#dff2f8"/>
<rect x="369.07" y="675.67" width="28.42" height="15.14" fill="#eff8dc"/>
<rect x="397.44" y="675.67" width="14.23" height="15.14" fill="#e7f5ea"/>
<rect x="411.62" y="675.67" width="14.23" height="15.14" fill="#b7d8ec"/>
<rect x="425.81" y="675.67" width="42.60" height="15.14" fill="#a3cbe6"/>
<rect x="468.36" y="675.67" width="14.23" height="15.14" fill="#b7d8ec"/>
<rect x="482.54" y="675.67" width="14.23" height="15.14" fill="#dff2f8"/>
<rect x="496.73" y="675.67" width="14.23" height="15.14" fill="#8fbee0"/>
<rect x="510.91" y="675.67" width="14.23" height="15.14" fill="#a3cbe6"/>
<rect x="525.09" y="675.67" width="14.23" height="15.14" fill="#cbe5f2"/>
<rect x="539.28" y="675.67" width="14.23" height="15.14" fill="#8fbee0"/>
<rect x="553.46" y="675.67" width="14.23" height="15.14" fill="#a3cbe6"/>
<rect x="567.65" y="675.67" width="14.23" height="15.14" fill="#8fbee0"/>
<rect x="581.83" y="675.67" width="14.23" height="15.14" fill="#a3cbe6"/>
<rect x="596.02" y="675.67" width="14.23" height="15.14" fill="#8fbee0"/>
<rect x="71.20" y="690.76" width="42.60" height="15.14" fill="#6a9acf"/>
<rect x="113.75" y="690.76" width="14.23" height="15.14" fill="#7cacd8"/>
<rect x="127.94" y="690.76" width="28.42" height="15.14" fill="#6a9acf"/>
<rect x="156.31" y="690.76" width="14.23" height="15.14" fill="#7cacd8"/>
<rect x="170.49" y="690.76" width="28.42" height="15.14" fill="#8fbee0"/>
<rect x="198.86" y="690.76" width="14.23" height="15.14" fill="#7cacd8"/>
<rect x="213.04" y="690.76" width="14.23" height="15.14" fill="#8fbee0"/>
<rect x="227.23" y="690.76" width="56.79" height="15.14" fill="#7cacd8"/>
<rect x="283.96" y="690.76" width="14.23" height="15.14" fill="#8fbee0"/>
<rect x="298.15" y="690.76" width="14.23" height="15.14" fill="#7cacd8"/>
<rect x="312.33" y="690.76" width="14.23" height="15.14" fill="#a3cbe6"/>
<rect x="326.52" y="690.76" width="14.23" height="15.14" fill="#b7d8ec"/>
<rect x="340.70" y="690.76" width="14.23" height="15.14" fill="#a3cbe6"/>
<rect x="354.88" y="690.76" width="14.23" height="15.14" fill="#cbe5f2"/>
<rect x="369.07" y="690.76" width="14.23" height="15.14" fill="#dff2f8"/>
<rect x="383.25" y="690.76" width="14.23" height="15.14" fill="#e7f5ea"/>
<rect x="397.44" y="690.76" width="14.23" height="15.14" fill="#cbe5f2"/>
<rect x="411.62" y="690.76" width="14.23" height="15.14" fill="#dff2f8"/>
<rect x="425.81" y="690.76" width="14.23" height="15.14" fill="#b7d8ec"/>
<rect x="439.99" y="690.76" width="14.23" height="15.14" fill="#cbe5f2"/>
<rect x="454.17" y="690.76" width="14.23" height="15.14" fill="#dff2f8"/>
<rect x="468.36" y="690.76" width="14.23" height="15.14" fill="#cbe5f2"/>
<rect x="482.54" y="690.76" width="14.23" height="15.14" fill="#dff2f8"/>
<rect x="496.73" y="690.76" width="14.23" height="15.14" fill="#e7f5ea"/>
<rect x="510.91" y="690.76" width="14.23" height="15.14" fill="#b7d8ec"/>
<rect x="525.09" y="690.76" width="14.23" height="15.14" fill="#a3cbe6"/>
<rect x="539.28" y="690.76" width="14.23" height="15.14" fill="#8fbee0"/>
<rect x="553.46" y="690.76" width="14.23" height="15.14" fill="#a3cbe6"/>
<rect x="567.65" y="690.76" width="14.23" height="15.14" fill="#b7d8ec"/>
<rect x="581.83" y="690.76" width="14.23" height="15.14" fill="#cbe5f2"/>
<rect x="596.02" y="690.76" width="14.23" height="15.14" fill="#a3cbe6"/>
<rect x="71.20" y="705.85" width="14.23" height="15.14" fill="#6a9acf"/>
<rect x="85.38" y="705.85" width="14.23" height="15.14" fill="#5889c6"/>
<rect x="99.57" y="705.85" width="28.42" height="15.14" fill="#6a9acf"/>
<rect x="127.94" y="705.85" width="14.23" height="15.14" fill="#5889c6"/>
<rect x="142.12" y="705.85" width="14.23" height="15.14" fill="#6a9acf"/>
<rect x="156.31" y="705.85" width="14.23" height="15.14" fill="#5889c6"/>
<rect x="170.49" y="705.85" width="14.23" height="15.14" fill="#8fbee0"/>
<rect x="184.67" y="705.85" width="42.60" height="15.14" fill="#7cacd8"/>
<rect x="227.23" y="705.85" width="28.42" height="15.14" fill="#6a9acf"/>
<rect x="255.59" y="705.85" width="14.23" height="15.14" fill="#8fbee0"/>
<rect x="269.78" y="705.85" width="14.23" height="15.14" fill="#6a9acf"/>
<rect x="283.96" y="705.85" width="70.97" height="15.14" fill="#7cacd8"/>
<rect x="354.88" y="705.85" width="14.23" height="15.14" fill="#dff2f8"/>
<rect x="369.07" y="705.85" width="14.23" height="15.14" fill="#e7f5ea"/>
<rect x="383.25" y="705.85" width="14.23" height="15.14" fill="#dff2f8"/>
<rect x="397.44" y="705.85" width="14.23" height="15.14" fill="#a3cbe6"/>
<rect x="411.62" y="705.85" width="28.42" height="15.14" fill="#cbe5f2"/>
<rect x="439.99" y="705.85" width="14.23" height="15.14" fill="#b7d8ec"/>
<rect x="454.17" y="705.85" width="14.23" height="15.14" fill="#cbe5f2"/>
<rect x="468.36" y="705.85" width="14.23" height="15.14" fill="#b7d8ec"/>
<rect x="482.54" y="705.85" width="14.23" height="15.14" fill="#cbe5f2"/>
<rect x="496.73" y="705.85" width="14.23" height="15.14" fill="#b7d8ec"/>
<rect x="510.91" y="705.85" width="14.23" height="15.14" fill="#a3cbe6"/>
<rect x="525.09" y="705.85" width="14.23" height="15.14" fill="#b7d8ec"/>
<rect x="539.28" y="705.85" width="14.23" height="15.14" fill="#a3cbe6"/>
<rect x="553.46" y="705.85" width="14.23" height="15.14" fill="#8fbee0"/>
<rect x="567.65" y="705.85" width="14.23" height="15.14" fill="#a3cbe6"/>
<rect x="581.83" y="705.85" width="14.23" height="15.14" fill="#7cacd8"/>
<rect x="596.02" y="705.85" width="14.23" height="15.14" fill="#b7d8ec"/>
<rect x="71.20" y="720.94" width="14.23" height="15.14" fill="#6a9acf"/>
<rect x="85.38" y="720.94" width="14.23" height="15.14" fill="#5889c6"/>
<rect x="99.57" y="720.94" width="42.60" height="15.14" fill="#7cacd8"/>
<rect x="142.12" y="720.94" width="28.42" height="15.14" fill="#6a9acf"/>
<rect x="170.49" y="720.94" width="14.23" height="15.14" fill="#8fbee0"/>
<rect x="184.67" y="720.94" width="14.23" height="15.14" fill="#7cacd8"/>
<rect x="198.86" y="720.94" width="14.23" height="15.14" fill="#6a9acf"/>
<rect x="213.04" y="720.94" width="14.23" height="15.14" fill="#8fbee0"/>
<rect x="227.23" y="720.94" width="28.42" height="15.14" fill="#6a9acf"/>
<rect x="255.59" y="720.94" width="28.42" height="15.14" fill="#8fbee0"/>
<rect x="283.96" y="720.94" width="42.60" height="15.14" fill="#7cacd8"/>
<rect x="326.52" y="720.94" width="14.23" height="15.14" fill="#a3cbe6"/>
<rect x="340.70" y="720.94" width="14.23" height="15.14" fill="#7cacd8"/>
<rect x="354.88" y="720.94" width="14.23" height="15.14" fill="#dff2f8"/>
<rect x="369.07" y="720.94" width="14.23" height="15.14" fill="#f7fccd"/>
<rect x="383.25" y="720.94" width="14.23" height="15.14" fill="#cbe5f2"/>
<rect x="397.44" y="720.94" width="14.23" height="15.14" fill="#b7d8ec"/>
<rect x="411.62" y="720.94" width="14.23" height="15.14" fill="#cbe5f2"/>
<rect x="425.81" y="720.94" width="14.23" height="15.14" fill="#b7d8ec"/>
<rect x="439.99" y="720.94" width="14.23" height="15.14" fill="#cbe5f2"/>
<rect x="454.17" y="720.94" width="14.23" height="15.14" fill="#b7d8ec"/>
<rect x="468.36" y="720.94" width="14.23" height="15.14" fill="#dff2f8"/>
<rect x="482.54" y="720.94" width="14.23" height="15.14" fill="#cbe5f2"/>
<rect x="496.73" y="720.94" width="14.23" height="15.14" fill="#8fbee0"/>
<rect x="510.91" y="720.94" width="14.23" height="15.14" fill="#a3cbe6"/>
<rect x="525.09" y="720.94" width="14.23" height="15.14" fill="#b7d8ec"/>
<rect x="539.28" y="720.94" width="28.42" height="15.14" fill="#8fbee0"/>
<rect x="567.65" y="720.94" width="14.23" height="15.14" fill="#b7d8ec"/>
<rect x="581.83" y="720.94" width="28.42" height="15.14" fill="#a3cbe6"/>
<rect x="71.20" y="736.03" width="28.42" height="15.14" fill="#5889c6"/>
<rect x="99.57" y="736.03" width="28.42" height="15.14" fill="#7cacd8"/>
<rect x="127.94" y="736.03" width="42.60" height="15.14" fill="#6a9acf"/>
<rect x="170.49" y="736.03" width="14.23" height="15.14" fill="#7cacd8"/>
<rect x="184.67" y="736.03" width="14.23" height="15.14" fill="#8fbee0"/>
<rect x="198.86" y="736.03" width="14.23" height="15.14" fill="#6a9acf"/>
<rect x="213.04" y="736.03" width="28.42" height="15.14" fill="#7cacd8"/>
<rect x="241.41" y="736.03" width="14.23" height="15.14" fill="#6a9acf"/>
<rect x="255.59" y="736.03" width="14.23" height="15.14" fill="#8fbee0"/>
<rect x="269.78" y="736.03" width="56.79" height="15.14" fill="#7cacd8"/>
<rect x="326.52" y="736.03" width="28.42" height="15.14" fill="#8fbee0"/>
<rect x="354.88" y="736.03" width="14.23" height="15.14" fill="#eff8dc"/>
<rect x="369.07" y="736.03" width="14.23" height="15.14" fill="#ffffbf"/>
<rect x="383.25" y="736.03" width="14.23" height="15.14" fill="#e7f5ea"/>
<rect x="397.44" y="736.03" width="42.60" height="15.14" fill="#cbe5f2"/>
<rect x="439.99" y="736.03" width="14.23" height="15.14" fill="#b7d8ec"/>
<rect x="454.17" y="736.03" width="42.60" height="15.14" fill="#cbe5f2"/>
<rect x="496.73" y="736.03" width="14.23" height="15.14" fill="#8fbee0"/>
<rect x="510.91" y="736.03" width="14.23" height="15.14" fill="#a3cbe6"/>
<rect x="525.09" y="736.03" width="14.23" height="15.14" fill="#cbe5f2"/>
<rect x="539.28" y="736.03" width="28.42" height="15.14" fill="#8fbee0"/>
<rect x="567.65" y="736.03" width="28.42" height="15.14" fill="#a3cbe6"/>
<rect x="596.02" y="736.03" width="14.23" height="15.14" fill="#cbe5f2"/>
<rect x="71.20" y="751.12" width="28.42" height="15.14" fill="#6a9acf"/>
<rect x="99.57" y="751.12" width="42.60" height="15.14" fill="#7cacd8"/>
<rect x="142.12" y="751.12" width="14.23" height="15.14" fill="#6a9acf"/>
<rect x="156.31" y="751.12" width="42.60" height="15.14" fill="#7cacd8"/>
<rect x="198.86" y="751.12" width="14.23" height="15.14" fill="#6a9acf"/>
<rect x="213.04" y="751.12" width="28.42" height="15.14" fill="#7cacd8"/>
<rect x="241.41" y="751.12" width="14.23" height="15.14" fill="#6a9acf"/>
<rect x="255.59" y="751.12" width="14.23" height="15.14" fill="#7cacd8"/>
<rect x="269.78" y="751.12" width="14.23" height="15.14" fill="#8fbee0"/>
<rect x="283.96" y="751.12" width="42.60" height="15.14" fill="#7cacd8"/>
<rect x="326.52" y="751.12" width="14.23" height="15.14" fill="#a3cbe6"/>
<rect x="340.70" y="751.12" width="14.23" height="15.14" fill="#7cacd8"/>
<rect x="354.88" y="751.12" width="14.23" height="15.14" fill="#dff2f8"/>
<rect x="369.07" y="751.12" width="28.42" height="15.14" fill="#e7f5ea"/>
<rect x="397.44" y="751.12" width="14.23" height="15.14" fill="#b7d8ec"/>
<rect x="411.62" y="751.12" width="56.79" height="15.14" fill="#cbe5f2"/>
<rect x="468.36" y="751.12" width="28.42" height="15.14" fill="#dff2f8"/>
<rect x="496.73" y="751.12" width="14.23" height="15.14" fill="#b7d8ec"/>
<rect x="510.91" y="751.12" width="14.23" height="15.14" fill="#8fbee0"/>
<rect x="525.09" y="751.12" width="14.23" height="15.14" fill="#cbe5f2"/>
<rect x="539.28" y="751.12" width="14.23" height="15.14" fill="#a3cbe6"/>
<rect x="553.46" y="751.12" width="14.23" height="15.14" fill="#b7d8ec"/>
<rect x="567.65" y="751.12" width="14.23" height="15.14" fill="#a3cbe6"/>
<rect x="581.83" y="751.12" width="14.23" height="15.14" fill="#8fbee0"/>
<rect x="596.02" y="751.12" width="14.23" height="15.14" fill="#cbe5f2"/>
<rect x="71.20" y="766.22" width="28.42" height="15.14" fill="#6a9acf"/>
<rect x="99.57" y="766.22" width="14.23" height="15.14" fill="#a3cbe6"/>
<rect x="113.75" y="766.22" width="14.23" height="15.14" fill="#8fbee0"/>
<rect x="127.94" y="766.22" width="14.23" height="15.14" fill="#a3cbe6"/>
<rect x="142.12" y="766.22" width="14.23" height="15.14" fill="#8fbee0"/>
<rect x="156.31" y="766.22" width="14.23" height="15.14" fill="#7cacd8"/>
<rect x="170.49" y="766.22" width="14.23" height="15.14" fill="#6a9acf"/>
<rect x="184.67" y="766.22" width="14.23" height="15.14" fill="#5889c6"/>
<rect x="198.86" y="766.22" width="28.42" height="15.14" fill="#7cacd8"/>
<rect x="227.23" y="766.22" width="14.23" height="15.14" fill="#a3cbe6"/>
<rect x="241.41" y="766.22" width="14.23" height="15.14" fill="#b7d8ec"/>
<rect x="255.59" y="766.22" width="14.23" height="15.14" fill="#8fbee0"/>
<rect x="269.78" y="766.22" width="28.42" height="15.14" fill="#a3cbe6"/>
<rect x="298.15" y="766.22" width="14.23" height="15.14" fill="#b7d8ec"/>
<rect x="312.33" y="766.22" width="42.60" height="15.14" fill="#a3cbe6"/>
<rect x="354.88" y="766.22" width="14.23" height="15.14" fill="#f7fccd"/>
<rect x="369.07" y="766.22" width="14.23" height="15.14" fill="#a3cbe6"/>
<rect x="383.25" y="766.22" width="14.23" height="15.14" fill="#b7d8ec"/>
<rect x="397.44" y="766.22" width="14.23" height="15.14" fill="#8fbee0"/>
<rect x="411.62" y="766.22" width="14.23" height="15.14" fill="#b7d8ec"/>
<rect x="425.81" y="766.22" width="42.60" height="15.14" fill="#dff2f8"/>
<rect x="468.36" y="766.22" width="14.23" height="15.14" fill="#cbe5f2"/>
<rect x="482.54" y="766.22" width="14.23" height="15.14" fill="#8fbee0"/>
<rect x="496.73" y="766.22" width="14.23" height="15.14" fill="#b7d8ec"/>
<rect x="510.91" y="766.22" width="14.23" height="15.14" fill="#a3cbe6"/>
<rect x="525.09" y="766.22" width="14.23" height="15.14" fill="#7cacd8"/>
<rect x="539.28" y="766.22" width="28.42" height="15.14" fill="#cbe5f2"/>
<rect x="567.65" y="766.22" width="14.23" height="15.14" fill="#b7d8ec"/>
<rect x="581.83" y="766.22" width="14.23" height="15.14" fill="#cbe5f2"/>
<rect x="596.02" y="766.22" width="14.23" height="15.14" fill="#dff2f8"/>
<rect x="71.20" y="781.31" width="28.42" height="15.14" fill="#6a9acf"/>
<rect x="99.57" y="781.31" width="28.42" height="15.14" fill="#8fbee0"/>
<rect x="127.94" y="781.31" width="14.23" height="15.14" fill="#7cacd8"/>
<rect x="142.12" y="781.31" width="14.23" height="15.14" fill="#6a9acf"/>
<rect x="156.31" y="781.31" width="14.23" height="15.14" fill="#7cacd8"/>
<rect x="170.49" y="781.31" width="85.16" height="15.14" fill="#a3cbe6"/>
<rect x="255.59" y="781.31" width="14.23" height="15.14" fill="#8fbee0"/>
<rect x="269.78" y="781.31" width="42.60" height="15.14" fill="#a3cbe6"/>
<rect x="312.33" y="781.31" width="14.23" height="15.14" fill="#8fbee0"/>
<rect x="326.52" y="781.31" width="14.23" height="15.14" fill="#cbe5f2"/>
<rect x="340.70" y="781.31" width="14.23" height="15.14" fill="#a3cbe6"/>
<rect x="354.88" y="781.31" width="14.23" height="15.14" fill="#fff7b3"/>
<rect x="369.07" y="781.31" width="28.42" height="15.14" fill="#ffffbf"/>
<rect x="397.44" y="781.31" width="14.23" height="15.14" fill="#eff8dc"/>
<rect x="411.62" y="781.31" width="14.23" height="15.14" fill="#f7fccd"/>
<rect x="425.81" y="781.31" width="14.23" height="15.14" fill="#eff8dc"/>
<rect x="439.99" y="781.31" width="14.23" height="15.14" fill="#f7fccd"/>
<rect x="454.17" y="781.31" width="28.42" height="15.14" fill="#eff8dc"/>
<rect x="482.54" y="781.31" width="14.23" height="15.14" fill="#e7f5ea"/>
<rect x="496.73" y="781.31" width="14.23" height="15.14" fill="#eff8dc"/>
<rect x="510.91" y="781.31" width="14.23" height="15.14" fill="#cbe5f2"/>
<rect x="525.09" y="781.31" width="14.23" height="15.14" fill="#dff2f8"/>
<rect x="539.28" y="781.31" width="42.60" height="15.14" fill="#cbe5f2"/>
<rect x="581.83" y="781.31" width="14.23" height="15.14" fill="#b7d8ec"/>
<rect x="596.02" y="781.31" width="14.23" height="15.14" fill="#dff2f8"/>
<rect x="71.20" y="796.40" width="14.23" height="15.14" fill="#6a9acf"/>
<rect x="85.38" y="796.40" width="14.23" height="15.14" fill="#5889c6"/>
<rect x="99.57" y="796.40" width="14.23" height="15.14" fill="#6a9acf"/>
<rect x="113.75" y="796.40" width="28.42" height="15.14" fill="#7cacd8"/>
<rect x="142.12" y="796.40" width="28.42" height="15.14" fill="#5889c6"/>
<rect x="170.49" y="796.40" width="28.42" height="15.14" fill="#8fbee0"/>
<rect x="198.86" y="796.40" width="14.23" height="15.14" fill="#6a9acf"/>
<rect x="213.04" y="796.40" width="14.23" height="15.14" fill="#8fbee0"/>
<rect x="227.23" y="796.40" width="14.23" height="15.14" fill="#7cacd8"/>
<rect x="241.41" y="796.40" width="14.23" height="15.14" fill="#6a9acf"/>
<rect x="255.59" y="796.40" width="14.23" height="15.14" fill="#8fbee0"/>
<rect x="269.78" y="796.40" width="28.42" height="15.14" fill="#a3cbe6"/>
<rect x="298.15" y="796.40" width="14.23" height="15.14" fill="#8fbee0"/>
<rect x="312.33" y="796.40" width="14.23" height="15.14" fill="#7cacd8"/>
<rect x="326.52" y="796.40" width="28.42" height="15.14" fill="#b7d8ec"/>
<rect x="354.88" y="796.40" width="42.60" height="15.14" fill="#eff8dc"/>
<rect x="397.44" y="796.40" width="14.23" height="15.14" fill="#dff2f8"/>
<rect x="411.62" y="796.40" width="28.42" height="15.14" fill="#eff8dc"/>
<rect x="439.99" y="796.40" width="28.42" height="15.14" fill="#dff2f8"/>
<rect x="468.36" y="796.40" width="14.23" height="15.14" fill="#e7f5ea"/>
<rect x="482.54" y="796.40" width="14.23" height="15.14" fill="#eff8dc"/>
<rect x="496.73" y="796.40" width="14.23" height="15.14" fill="#dff2f8"/>
<rect x="510.91" y="796.40" width="14.23" height="15.14" fill="#a3cbe6"/>
<rect x="525.09" y="796.40" width="14.23" height="15.14" fill="#cbe5f2"/>
<rect x="539.28" y="796.40" width="14.23" height="15.14" fill="#a3cbe6"/>
<rect x="553.46" y="796.40" width="14.23" height="15.14" fill="#b7d8ec"/>
<rect x="567.65" y="796.40" width="28.42" height="15.14" fill="#cbe5f2"/>
<rect x="596.02" y="796.40" width="14.23" height="15.14" fill="#a3cbe6"/>
<rect x="71.20" y="811.49" width="28.42" height="15.14" fill="#6a9acf"/>
<rect x="99.57" y="811.49" width="14.23" height="15.14" fill="#7cacd8"/>
<rect x="113.75" y="811.49" width="14.23" height="15.14" fill="#a3cbe6"/>
<rect x="127.94" y="811.49" width="28.42" height="15.14" fill="#7cacd8"/>
<rect x="156.31" y="811.49" width="14.23" height="15.14" fill="#8fbee0"/>
<rect x="170.49" y="811.49" width="14.23" height="15.14" fill="#7cacd8"/>
<rect x="184.67" y="811.49" width="14.23" height="15.14" fill="#6a9acf"/>
<rect x="198.86" y="811.49" width="14.23" height="15.14" fill="#7cacd8"/>
<rect x="213.04" y="811.49" width="14.23" height="15.14" fill="#8fbee0"/>
<rect x="227.23" y="811.49" width="14.23" height="15.14" fill="#a3cbe6"/>
<rect x="241.41" y="811.49" width="14.23" height="15.14" fill="#8fbee0"/>
<rect x="255.59" y="811.49" width="14.23" height="15.14" fill="#7cacd8"/>
<rect x="269.78" y="811.49" width="14.23" height="15.14" fill="#a3cbe6"/>
<rect x="283.96" y="811.49" width="14.23" height="15.14" fill="#8fbee0"/>
<rect x="298.15" y="811.49" width="14.23" height="15.14" fill="#a3cbe6"/>
<rect x="312.33" y="811.49" width="14.23" height="15.14" fill="#8fbee0"/>
<rect x="326.52" y="811.49" width="14.23" height="15.14" fill="#a3cbe6"/>
<rect x="340.70" y="811.49" width="14.23" height="15.14" fill="#cbe5f2"/>
<rect x="354.88" y="811.49" width="14.23" height="15.14" fill="#eff8dc"/>
<rect x="369.07" y="811.49" width="28.42" height="15.14" fill="#e7f5ea"/>
<rect x="397.44" y="811.49" width="14.23" height="15.14" fill="#dff2f8"/>
<rect x="411.62" y="811.49" width="28.42" height="15.14" fill="#e7f5ea"/>
<rect x="439.99" y="811.49" width="42.60" height="15.14" fill="#dff2f8"/>
<rect x="482.54" y="811.49" width="14.23" height="15.14" fill="#b7d8ec"/>
<rect x="496.73" y="811.49" width="14.23" height="15.14" fill="#a3cbe6"/>
<rect x="510.91" y="811.49" width="14.23" height="15.14" fill="#8fbee0"/>
<rect x="525.09" y="811.49" width="14.23" height="15.14" fill="#cbe5f2"/>
<rect x="539.28" y="811.49" width="14.23" height="15.14" fill="#a3cbe6"/>
<rect x="553.46" y="811.49" width="14.23" height="15.14" fill="#cbe5f2"/>
<rect x="567.65" y="811.49" width="14.23" height="15.14" fill="#dff2f8"/>
<rect x="581.83" y="811.49" width="14.23" height="15.14" fill="#cbe5f2"/>
<rect x="596.02" y="811.49" width="14.23" height="15.14" fill="#dff2f8"/>
<rect x="71.20" y="826.58" width="42.60" height="15.14" fill="#6a9acf"/>
<rect x="113.75" y="826.58" width="28.42" height="15.14" fill="#7cacd8"/>
<rect x="142.12" y="826.58" width="14.23" height="15.14" fill="#6a9acf"/>
<rect x="156.31" y="826.58" width="28.42" height="15.14" fill="#7cacd8"/>
<rect x="184.67" y="826.58" width="14.23" height="15.14" fill="#a3cbe6"/>
<rect x="198.86" y="826.58" width="14.23" height="15.14" fill="#7cacd8"/>
<rect x="213.04" y="826.58" width="42.60" height="15.14" fill="#8fbee0"/>
<rect x="255.59" y="826.58" width="14.23" height="15.14" fill="#a3cbe6"/>
<rect x="269.78" y="826.58" width="56.79" height="15.14" fill="#8fbee0"/>
<rect x="326.52" y="826.58" width="14.23" height="15.14" fill="#cbe5f2"/>
<rect x="340.70" y="826.58" width="14.23" height="15.14" fill="#a3cbe6"/>
<rect x="354.88" y="826.58" width="14.23" height="15.14" fill="#eff8dc"/>
<rect x="369.07" y="826.58" width="14.23" height="15.14" fill="#fef0a8"/>
<rect x="383.25" y="826.58" width="14.23" height="15.14" fill="#dff2f8"/>
<rect x="397.44" y="826.58" width="14.23" height="15.14" fill="#b7d8ec"/>
<rect x="411.62" y="826.58" width="28.42" height="15.14" fill="#dff2f8"/>
<rect x="439.99" y="826.58" width="28.42" height="15.14" fill="#cbe5f2"/>
<rect x="468.36" y="826.58" width="28.42" height="15.14" fill="#dff2f8"/>
<rect x="496.73" y="826.58" width="14.23" height="15.14" fill="#cbe5f2"/>
<rect x="510.91" y="826.58" width="42.60" height="15.14" fill="#b7d8ec"/>
<rect x="553.46" y="826.58" width="28.42" height="15.14" fill="#cbe5f2"/>
<rect x="581.83" y="826.58" width="14.23" height="15.14" fill="#a3cbe6"/>
<rect x="596.02" y="826.58" width="14.23" height="15.14" fill="#b7d8ec"/>
<rect x="71.20" y="841.67" width="28.42" height="15.14" fill="#4c7ec1"/>
<rect x="99.57" y="841.67" width="28.42" height="15.14" fill="#5687c6"/>
<rect x="127.94" y="841.67" width="14.23" height="15.14" fill="#4c7ec1"/>
<rect x="142.12" y="841.67" width="14.23" height="15.14" fill="#5687c6"/>
<rect x="156.31" y="841.67" width="42.60" height="15.14" fill="#4c7ec1"/>
<rect x="198.86" y="841.67" width="28.42" height="15.14" fill="#5687c6"/>
<rect x="227.23" y="841.67" width="14.23" height="15.14" fill="#4c7ec1"/>
<rect x="241.41" y="841.67" width="14.23" height="15.14" fill="#5687c6"/>
<rect x="255.59" y="841.67" width="14.23" height="15.14" fill="#4c7ec1"/>
<rect x="269.78" y="841.67" width="14.23" height="15.14" fill="#5687c6"/>
<rect x="283.96" y="841.67" width="28.42" height="15.14" fill="#4c7ec1"/>
<rect x="312.33" y="841.67" width="14.23" height="15.14" fill="#5687c6"/>
<rect x="326.52" y="841.67" width="14.23" height="15.14" fill="#4c7ec1"/>
<rect x="340.70" y="841.67" width="28.42" height="15.14" fill="#5687c6"/>
<rect x="369.07" y="841.67" width="56.79" height="15.14" fill="#4c7ec1"/>
<rect x="425.81" y="841.67" width="56.79" height="15.14" fill="#5687c6"/>
<rect x="482.54" y="841.67" width="14.23" height="15.14" fill="#4c7ec1"/>
<rect x="496.73" y="841.67" width="14.23" height="15.14" fill="#5687c6"/>
<rect x="510.91" y="841.67" width="28.42" height="15.14" fill="#4c7ec1"/>
<rect x="539.28" y="841.67" width="42.60" height="15.14" fill="#5687c6"/>
<rect x="581.83" y="841.67" width="14.23" height="15.14" fill="#4c7ec1"/>
<rect x="596.02" y="841.67" width="14.23" height="15.14" fill="#5687c6"/>
<rect x="71.20" y="856.77" width="85.16" height="15.14" fill="#6a9acf"/>
<rect x="156.31" y="856.77" width="28.42" height="15.14" fill="#7cacd8"/>
<rect x="184.67" y="856.77" width="14.23" height="15.14" fill="#5889c6"/>
<rect x="198.86" y="856.77" width="14.23" height="15.14" fill="#6a9acf"/>
<rect x="213.04" y="856.77" width="28.42" height="15.14" fill="#7cacd8"/>
<rect x="241.41" y="856.77" width="14.23" height="15.14" fill="#6a9acf"/>
<rect x="255.59" y="856.77" width="99.34" height="15.14" fill="#7cacd8"/>
<rect x="354.88" y="856.77" width="14.23" height="15.14" fill="#cbe5f2"/>
<rect x="369.07" y="856.77" width="14.23" height="15.14" fill="#8fbee0"/>
<rect x="383.25" y="856.77" width="14.23" height="15.14" fill="#a3cbe6"/>
<rect x="397.44" y="856.77" width="28.42" height="15.14" fill="#8fbee0"/>
<rect x="425.81" y="856.77" width="14.23" height="15.14" fill="#b7d8ec"/>
<rect x="439.99" y="856.77" width="14.23" height="15.14" fill="#8fbee0"/>
<rect x="454.17" y="856.77" width="42.60" height="15.14" fill="#a3cbe6"/>
<rect x="496.73" y="856.77" width="28.42" height="15.14" fill="#7cacd8"/>
<rect x="525.09" y="856.77" width="56.79" height="15.14" fill="#8fbee0"/>
<rect x="581.83" y="856.77" width="14.23" height="15.14" fill="#7cacd8"/>
<rect x="596.02" y="856.77" width="14.23" height="15.14" fill="#8fbee0"/>
<rect x="71.20" y="871.86" width="14.23" height="15.14" fill="#5889c6"/>
<rect x="85.38" y="871.86" width="14.23" height="15.14" fill="#6a9acf"/>
<rect x="99.57" y="871.86" width="14.23" height="15.14" fill="#5889c6"/>
<rect x="113.75" y="871.86" width="28.42" height="15.14" fill="#6a9acf"/>
<rect x="142.12" y="871.86" width="14.23" height="15.14" fill="#5889c6"/>
<rect x="156.31" y="871.86" width="14.23" height="15.14" fill="#6a9acf"/>
<rect x="170.49" y="871.86" width="14.23" height="15.14" fill="#7cacd8"/>
<rect x="184.67" y="871.86" width="28.42" height="15.14" fill="#6a9acf"/>
<rect x="213.04" y="871.86" width="14.23" height="15.14" fill="#7cacd8"/>
<rect x="227.23" y="871.86" width="14.23" height="15.14" fill="#6a9acf"/>
<rect x="241.41" y="871.86" width="28.42" height="15.14" fill="#7cacd8"/>
<rect x="269.78" y="871.86" width="14.23" height="15.14" fill="#8fbee0"/>
<rect x="283.96" y="871.86" width="28.42" height="15.14" fill="#7cacd8"/>
<rect x="312.33" y="871.86" width="14.23" height="15.14" fill="#6a9acf"/>
<rect x="326.52" y="871.86" width="28.42" height="15.14" fill="#7cacd8"/>
<rect x="354.88" y="871.86" width="28.42" height="15.14" fill="#a3cbe6"/>
<rect x="383.25" y="871.86" width="14.23" height="15.14" fill="#8fbee0"/>
<rect x="397.44" y="871.86" width="14.23" height="15.14" fill="#7cacd8"/>
<rect x="411.62" y="871.86" width="14.23" height="15.14" fill="#a3cbe6"/>
<rect x="425.81" y="871.86" width="14.23" height="15.14" fill="#b7d8ec"/>
<rect x="439.99" y="871.86" width="28.42" height="15.14" fill="#8fbee0"/>
<rect x="468.36" y="871.86" width="14.23" height="15.14" fill="#a3cbe6"/>
<rect x="482.54" y="871.86" width="14.23" height="15.14" fill="#b7d8ec"/>
<rect x="496.73" y="871.86" width="14.23" height="15.14" fill="#8fbee0"/>
<rect x="510.91" y="871.86" width="14.23" height="15.14" fill="#7cacd8"/>
<rect x="525.09" y="871.86" width="14.23" height="15.14" fill="#8fbee0"/>
<rect x="539.28" y="871.86" width="28.42" height="15.14" fill="#7cacd8"/>
<rect x="567.65" y="871.86" width="28.42" height="15.14" fill="#8fbee0"/>
<rect x="596.02" y="871.86" width="14.23" height="15.14" fill="#7cacd8"/>
<rect x="71.20" y="886.95" width="42.60" height="15.14" fill="#5889c6"/>
<rect x="113.75" y="886.95" width="14.23" height="15.14" fill="#6a9acf"/>
<rect x="127.94" y="886.95" width="56.79" height="15.14" fill="#5889c6"/>
<rect x="184.67" y="886.95" width="56.79" height="15.14" fill="#6a9acf"/>
<rect x="241.41" y="886.95" width="14.23" height="15.14" fill="#5889c6"/>
<rect x="255.59" y="886.95" width="56.79" height="15.14" fill="#6a9acf"/>
<rect x="312.33" y="886.95" width="14.23" height="15.14" fill="#5889c6"/>
<rect x="326.52" y="886.95" width="14.23" height="15.14" fill="#7cacd8"/>
<rect x="340.70" y="886.95" width="14.23" height="15.14" fill="#5889c6"/>
<rect x="354.88" y="886.95" width="28.42" height="15.14" fill="#a3cbe6"/>
<rect x="383.25" y="886.95" width="14.23" height="15.14" fill="#8fbee0"/>
<rect x="397.44" y="886.95" width="28.42" height="15.14" fill="#a3cbe6"/>
<rect x="425.81" y="886.95" width="14.23" height="15.14" fill="#b7d8ec"/>
<rect x="439.99" y="886.95" width="14.23" height="15.14" fill="#7cacd8"/>
<rect x="454.17" y="886.95" width="42.60" height="15.14" fill="#8fbee0"/>
<rect x="496.73" y="886.95" width="28.42" height="15.14" fill="#7cacd8"/>
<rect x="525.09" y="886.95" width="28.42" height="15.14" fill="#6a9acf"/>
<rect x="553.46" y="886.95" width="14.23" height="15.14" fill="#7cacd8"/>
<rect x="567.65" y="886.95" width="14.23" height="15.14" fill="#6a9acf"/>
<rect x="581.83" y="886.95" width="28.42" height="15.14" fill="#7cacd8"/>
<rect x="71.20" y="902.04" width="14.23" height="15.14" fill="#5889c6"/>
<rect x="85.38" y="902.04" width="14.23" height="15.14" fill="#4577be"/>
<rect x="99.57" y="902.04" width="28.42" height="15.14" fill="#5889c6"/>
<rect x="127.94" y="902.04" width="14.23" height="15.14" fill="#4577be"/>
<rect x="142.12" y="902.04" width="28.42" height="15.14" fill="#5889c6"/>
<rect x="170.49" y="902.04" width="28.42" height="15.14" fill="#6a9acf"/>
<rect x="198.86" y="902.04" width="14.23" height="15.14" fill="#5889c6"/>
<rect x="213.04" y="902.04" width="28.42" height="15.14" fill="#6a9acf"/>
<rect x="241.41" y="902.04" width="14.23" height="15.14" fill="#5889c6"/>
<rect x="255.59" y="902.04" width="28.42" height="15.14" fill="#6a9acf"/>
<rect x="283.96" y="902.04" width="14.23" height="15.14" fill="#5889c6"/>
<rect x="298.15" y="902.04" width="42.60" height="15.14" fill="#6a9acf"/>
<rect x="340.70" y="902.04" width="14.23" height="15.14" fill="#7cacd8"/>
<rect x="354.88" y="902.04" width="14.23" height="15.14" fill="#a3cbe6"/>
<rect x="369.07" y="902.04" width="14.23" height="15.14" fill="#b7d8ec"/>
<rect x="383.25" y="902.04" width="14.23" height="15.14" fill="#8fbee0"/>
<rect x="397.44" y="902.04" width="14.23" height="15.14" fill="#7cacd8"/>
<rect x="411.62" y="902.04" width="28.42" height="15.14" fill="#8fbee0"/>
<rect x="439.99" y="902.04" width="14.23" height="15.14" fill="#7cacd8"/>
<rect x="454.17" y="902.04" width="28.42" height="15.14" fill="#8fbee0"/>
<rect x="482.54" y="902.04" width="14.23" height="15.14" fill="#6a9acf"/>
<rect x="496.73" y="902.04" width="28.42" height="15.14" fill="#7cacd8"/>
<rect x="525.09" y="902.04" width="42.60" height="15.14" fill="#6a9acf"/>
<rect x="567.65" y="902.04" width="42.60" height="15.14" fill="#7cacd8"/>
<rect x="71.20" y="917.13" width="14.23" height="15.14" fill="#5889c6"/>
<rect x="85.38" y="917.13" width="85.16" height="15.14" fill="#6a9acf"/>
<rect x="170.49" y="917.13" width="28.42" height="15.14" fill="#7cacd8"/>
<rect x="198.86" y="917.13" width="14.23" height="15.14" fill="#6a9acf"/>
<rect x="213.04" y="917.13" width="28.42" height="15.14" fill="#7cacd8"/>
<rect x="241.41" y="917.13" width="14.23" height="15.14" fill="#6a9acf"/>
<rect x="255.59" y="917.13" width="70.97" height="15.14" fill="#7cacd8"/>
<rect x="326.52" y="917.13" width="28.42" height="15.14" fill="#8fbee0"/>
<rect x="354.88" y="917.13" width="14.23" height="15.14" fill="#dff2f8"/>
<rect x="369.07" y="917.13" width="14.23" height="15.14" fill="#b7d8ec"/>
<rect x="383.25" y="917.13" width="14.23" height="15.14" fill="#cbe5f2"/>
<rect x="397.44" y="917.13" width="14.23" height="15.14" fill="#8fbee0"/>
<rect x="411.62" y="917.13" width="14.23" height="15.14" fill="#e7f5ea"/>
<rect x="425.81" y="917.13" width="14.23" height="15.14" fill="#a3cbe6"/>
<rect x="439.99" y="917.13" width="14.23" height="15.14" fill="#b7d8ec"/>
<rect x="454.17" y="917.13" width="42.60" height="15.14" fill="#a3cbe6"/>
<rect x="496.73" y="917.13" width="14.23" height="15.14" fill="#fee89c"/>
<rect x="510.91" y="917.13" width="14.23" height="15.14" fill="#a3cbe6"/>
<rect x="525.09" y="917.13" width="14.23" height="15.14" fill="#8fbee0"/>
<rect x="539.28" y="917.13" width="14.23" height="15.14" fill="#7cacd8"/>
<rect x="553.46" y="917.13" width="56.79" height="15.14" fill="#8fbee0"/>
<rect x="71.20" y="932.23" width="28.42" height="15.14" fill="#5889c6"/>
<rect x="99.57" y="932.23" width="141.89" height="15.14" fill="#6a9acf"/>
<rect x="241.41" y="932.23" width="56.79" height="15.14" fill="#7cacd8"/>
<rect x="298.15" y="932.23" width="14.23" height="15.14" fill="#6a9acf"/>
<rect x="312.33" y="932.23" width="28.42" height="15.14" fill="#7cacd8"/>
<rect x="340.70" y="932.23" width="14.23" height="15.14" fill="#8fbee0"/>
<rect x="354.88" y="932.23" width="14.23" height="15.14" fill="#cbe5f2"/>
<rect x="369.07" y="932.23" width="14.23" height="15.14" fill="#b7d8ec"/>
<rect x="383.25" y="932.23" width="14.23" height="15.14" fill="#cbe5f2"/>
<rect x="397.44" y="932.23" width="14.23" height="15.14" fill="#a3cbe6"/>
<rect x="411.62" y="932.23" width="14.23" height="15.14" fill="#b7d8ec"/>
<rect x="425.81" y="932.23" width="14.23" height="15.14" fill="#a3cbe6"/>
<rect x="439.99" y="932.23" width="14.23" height="15.14" fill="#8fbee0"/>
<rect x="454.17" y="932.23" width="14.23" height="15.14" fill="#b7d8ec"/>
<rect x="468.36" y="932.23" width="14.23" height="15.14" fill="#eff8dc"/>
<rect x="482.54" y="932.23" width="28.42" height="15.14" fill="#a3cbe6"/>
<rect x="510.91" y="932.23" width="14.23" height="15.14" fill="#7cacd8"/>
<rect x="525.09" y="932.23" width="28.42" height="15.14" fill="#8fbee0"/>
<rect x="553.46" y="932.23" width="14.23" height="15.14" fill="#a3cbe6"/>
<rect x="567.65" y="932.23" width="42.60" height="15.14" fill="#8fbee0"/>
<rect x="71.20" y="947.32" width="28.42" height="15.14" fill="#6a9acf"/>
<rect x="99.57" y="947.32" width="42.60" height="15.14" fill="#7cacd8"/>
<rect x="142.12" y="947.32" width="14.23" height="15.14" fill="#6a9acf"/>
<rect x="156.31" y="947.32" width="14.23" height="15.14" fill="#7cacd8"/>
<rect x="170.49" y="947.32" width="14.23" height="15.14" fill="#a3cbe6"/>
<rect x="184.67" y="947.32" width="14.23" height="15.14" fill="#7cacd8"/>
<rect x="198.86" y="947.32" width="14.23" height="15.14" fill="#6a9acf"/>
<rect x="213.04" y="947.32" width="14.23" height="15.14" fill="#8fbee0"/>
<rect x="227.23" y="947.32" width="14.23" height="15.14" fill="#7cacd8"/>
<rect x="241.41" y="947.32" width="14.23" height="15.14" fill="#6a9acf"/>
<rect x="255.59" y="947.32" width="14.23" height="15.14" fill="#8fbee0"/>
<rect x="269.78" y="947.32" width="14.23" height="15.14" fill="#b7d8ec"/>
<rect x="283.96" y="947.32" width="42.60" height="15.14" fill="#8fbee0"/>
<rect x="326.52" y="947.32" width="14.23" height="15.14" fill="#a3cbe6"/>
<rect x="340.70" y="947.32" width="14.23" height="15.14" fill="#b7d8ec"/>
<rect x="354.88" y="947.32" width="14.23" height="15.14" fill="#dff2f8"/>
<rect x="369.07" y="947.32" width="28.42" height="15.14" fill="#cbe5f2"/>
<rect x="397.44" y="947.32" width="28.42" height="15.14" fill="#a3cbe6"/>
<rect x="425.81" y="947.32" width="14.23" height="15.14" fill="#cbe5f2"/>
<rect x="439.99" y="947.32" width="14.23" height="15.14" fill="#dff2f8"/>
<rect x="454.17" y="947.32" width="28.42" height="15.14" fill="#cbe5f2"/>
<rect x="482.54" y="947.32" width="14.23" height="15.14" fill="#b7d8ec"/>
<rect x="496.73" y="947.32" width="14.23" height="15.14" fill="#a3cbe6"/>
<rect x="510.91" y="947.32" width="14.23" height="15.14" fill="#8fbee0"/>
<rect x="525.09" y="947.32" width="28.42" height="15.14" fill="#a3cbe6"/>
<rect x="553.46" y="947.32" width="14.23" height="15.14" fill="#8fbee0"/>
<rect x="567.65" y="947.32" width="28.42" height="15.14" fill="#a3cbe6"/>
<rect x="596.02" y="947.32" width="14.23" height="15.14" fill="#b7d8ec"/>
<rect x="71.20" y="962.41" width="28.42" height="15.14" fill="#6a9acf"/>
<rect x="99.57" y="962.41" width="28.42" height="15.14" fill="#7cacd8"/>
<rect x="127.94" y="962.41" width="42.60" height="15.14" fill="#6a9acf"/>
<rect x="170.49" y="962.41" width="14.23" height="15.14" fill="#7cacd8"/>
<rect x="184.67" y="962.41" width="14.23" height="15.14" fill="#6a9acf"/>
<rect x="198.86" y="962.41" width="28.42" height="15.14" fill="#7cacd8"/>
<rect x="227.23" y="962.41" width="28.42" height="15.14" fill="#8fbee0"/>
<rect x="255.59" y="962.41" width="14.23" height="15.14" fill="#7cacd8"/>
<rect x="269.78" y="962.41" width="56.79" height="15.14" fill="#8fbee0"/>
<rect x="326.52" y="962.41" width="14.23" height="15.14" fill="#a3cbe6"/>
<rect x="340.70" y="962.41" width="14.23" height="15.14" fill="#8fbee0"/>
<rect x="354.88" y="962.41" width="14.23" height="15.14" fill="#eff8dc"/>
<rect x="369.07" y="962.41" width="42.60" height="15.14" fill="#b7d8ec"/>
<rect x="411.62" y="962.41" width="28.42" height="15.14" fill="#cbe5f2"/>
<rect x="439.99" y="962.41" width="14.23" height="15.14" fill="#b7d8ec"/>
<rect x="454.17" y="962.41" width="28.42" height="15.14" fill="#cbe5f2"/>
<rect x="482.54" y="962.41" width="14.23" height="15.14" fill="#a3cbe6"/>
<rect x="496.73" y="962.41" width="28.42" height="15.14" fill="#8fbee0"/>
<rect x="525.09" y="962.41" width="14.23" height="15.14" fill="#a3cbe6"/>
<rect x="539.28" y="962.41" width="14.23" height="15.14" fill="#8fbee0"/>
<rect x="553.46" y="962.41" width="56.79" height="15.14" fill="#a3cbe6"/>
<path d="M71.20 615.30V977.50M85.38 615.30V977.50M99.57 615.30V977.50M113.75 615.30V977.50M127.94 615.30V977.50M142.12 615.30V977.50M156.31 615.30V977.50M170.49 615.30V977.50M184.67 615.30V977.50M198.86 615.30V977.50M213.04 615.30V977.50M227.23 615.30V977.50M241.41 615.30V977.50M255.59 615.30V977.50M269.78 615.30V977.50M283.96 615.30V977.50M298.15 615.30V977.50M312.33 615.30V977.50M326.52 615.30V977.50M340.70 615.30V977.50M354.88 615.30V977.50M369.07 615.30V977.50M383.25 615.30V977.50M397.44 615.30V977.50M411.62 615.30V977.50M425.81 615.30V977.50M439.99 615.30V977.50M454.17 615.30V977.50M468.36 615.30V977.50M482.54 615.30V977.50M496.73 615.30V977.50M510.91 615.30V977.50M525.09 615.30V977.50M539.28 615.30V977.50M553.46 615.30V977.50M567.65 615.30V977.50M581.83 615.30V977.50M596.02 615.30V977.50M610.20 615.30V977.50M71.20 615.30H610.20M71.20 630.39H610.20M71.20 645.48H610.20M71.20 660.57H610.20M71.20 675.67H610.20M71.20 690.76H610.20M71.20 705.85H610.20M71.20 720.94H610.20M71.20 736.03H610.20M71.20 751.12H610.20M71.20 766.22H610.20M71.20 781.31H610.20M71.20 796.40H610.20M71.20 811.49H610.20M71.20 826.58H610.20M71.20 841.67H610.20M71.20 856.77H610.20M71.20 871.86H610.20M71.20 886.95H610.20M71.20 902.04H610.20M71.20 917.13H610.20M71.20 932.23H610.20M71.20 947.32H610.20M71.20 962.41H610.20M71.20 977.50H610.20" stroke="#919191" stroke-width="0.6" fill="none"/>
<path d="M78.3 615.3V611.1H92.5V615.3M106.7 615.3V611.9H120.8V615.3M149.2 615.3V611.9H163.4V615.3M135.0 615.3V610.6H156.3V611.9M113.8 611.9V609.9H145.7V610.6M85.4 611.1V606.2H129.7V609.9M191.8 615.3V610.4H205.9V615.3M177.6 615.3V609.9H198.9V610.4M234.3 615.3V610.4H248.5V615.3M220.1 615.3V609.4H241.4V610.4M188.2 609.9V606.2H230.8V609.4M305.2 615.3V611.5H319.4V615.3M291.1 615.3V610.4H312.3V611.5M276.9 615.3V609.4H301.7V610.4M262.7 615.3V608.8H289.3V609.4M333.6 615.3V607.5H347.8V615.3M276.0 608.8V605.4H340.7V607.5M209.5 606.2V601.9H308.3V605.4M107.5 606.2V592.3H258.9V601.9M376.2 615.3V605.4H390.3V615.3M362.0 615.3V601.3H383.3V605.4M404.5 615.3V604.4H418.7V615.3M447.1 615.3V610.5H461.3V615.3M432.9 615.3V607.9H454.2V610.5M475.4 615.3V605.5H489.6V615.3M443.5 607.9V602.7H482.5V605.5M411.6 604.4V599.3H463.0V602.7M518.0 615.3V606.6H532.2V615.3M560.6 615.3V610.0H574.7V615.3M546.4 615.3V609.4H567.6V610.0M588.9 615.3V608.8H603.1V615.3M557.0 609.4V605.5H596.0V608.8M525.1 606.6V600.7H576.5V605.5M503.8 615.3V598.3H550.8V600.7M437.3 599.3V592.5H527.3V598.3M372.6 601.3V576.8H482.3V592.5M183.2 592.3V553.4H427.5V576.8" stroke="#000" stroke-width="1" fill="none" stroke-linejoin="miter"/>
<path d="M71.2 622.8H61.4V637.9H71.2M71.2 653.0H58.7V668.1H71.2M61.4 630.4H51.5V660.6H58.7M71.2 743.6H67.7V758.7H71.2M71.2 728.5H67.2V751.1H67.7M71.2 713.4H66.5V739.8H67.2M71.2 698.3H65.0V726.6H66.5M71.2 683.2H63.2V712.5H65.0M71.2 819.0H65.8V834.1H71.2M71.2 803.9H64.8V826.6H65.8M71.2 788.9H62.7V815.3H64.8M71.2 773.8H58.5V802.1H62.7M63.2 697.8H57.6V787.9H58.5M71.2 864.3H67.3V879.4H71.2M71.2 894.5H67.3V909.6H71.2M67.3 871.9H64.3V902.0H67.3M71.2 954.9H66.4V970.0H71.2M71.2 939.8H64.1V962.4H66.4M71.2 924.7H61.2V951.1H64.1M64.3 887.0H58.1V937.9H61.2M71.2 849.2H48.5V912.4H58.1M57.6 742.9H35.9V880.8H48.5M51.5 645.5H9.4V811.8H35.9" stroke="#000" stroke-width="1" fill="none"/>
<text x="613.8" y="627.0">chr17</text>
<text x="613.8" y="642.1">chr19</text>
<text x="613.8" y="657.2">chr16</text>
<text x="613.8" y="672.3">chr22</text>
<text x="613.8" y="687.4">chr21</text>
<text x="613.8" y="702.5">chr11</text>
<text x="613.8" y="717.6">chr15</text>
<text x="613.8" y="732.7">chr7</text>
<text x="613.8" y="747.8">chr10</text>
<text x="613.8" y="762.9">chr6</text>
<text x="613.8" y="778.0">chrX</text>
<text x="613.8" y="793.1">chr1</text>
<text x="613.8" y="808.1">chr20</text>
<text x="613.8" y="823.2">chr12</text>
<text x="613.8" y="838.3">chr3</text>
<text x="613.8" y="853.4">chrY</text>
<text x="613.8" y="868.5">chr4</text>
<text x="613.8" y="883.6">chr8</text>
<text x="613.8" y="898.7">chr13</text>
<text x="613.8" y="913.8">chr18</text>
<text x="613.8" y="928.9">chr2</text>
<text x="613.8" y="944.0">chr9</text>
<text x="613.8" y="959.1">chr14</text>
<text x="613.8" y="974.2">chr5</text>
<text transform="translate(74.1 981.4) rotate(90)">SRR5091978</text>
<text transform="translate(88.3 981.4) rotate(90)">SRR5091980</text>
<text transform="translate(102.5 981.4) rotate(90)">SRR5091971</text>
<text transform="translate(116.6 981.4) rotate(90)">SRR5091988</text>
<text transform="translate(130.8 981.4) rotate(90)">SRR5091996</text>
<text transform="translate(145.0 981.4) rotate(90)">SRR5091979</text>
<text transform="translate(159.2 981.4) rotate(90)">SRR5091986</text>
<text transform="translate(173.4 981.4) rotate(90)">SRR5091977</text>
<text transform="translate(187.6 981.4) rotate(90)">SRR5091963</text>
<text transform="translate(201.8 981.4) rotate(90)">SRR5091981</text>
<text transform="translate(215.9 981.4) rotate(90)">SRR5091974</text>
<text transform="translate(230.1 981.4) rotate(90)">SRR5092000</text>
<text transform="translate(244.3 981.4) rotate(90)">SRR5091987</text>
<text transform="translate(258.5 981.4) rotate(90)">SRR5091983</text>
<text transform="translate(272.7 981.4) rotate(90)">SRR5091985</text>
<text transform="translate(286.9 981.4) rotate(90)">SRR5091990</text>
<text transform="translate(301.0 981.4) rotate(90)">SRR5091992</text>
<text transform="translate(315.2 981.4) rotate(90)">SRR5091989</text>
<text transform="translate(329.4 981.4) rotate(90)">SRR5091972</text>
<text transform="translate(343.6 981.4) rotate(90)">SRR5091998</text>
<text transform="translate(357.8 981.4) rotate(90)">SRR5091995</text>
<text transform="translate(372.0 981.4) rotate(90)">SRR5091970</text>
<text transform="translate(386.1 981.4) rotate(90)">SRR5091982</text>
<text transform="translate(400.3 981.4) rotate(90)">SRR5091964</text>
<text transform="translate(414.5 981.4) rotate(90)">SRR5091968</text>
<text transform="translate(428.7 981.4) rotate(90)">SRR5091993</text>
<text transform="translate(442.9 981.4) rotate(90)">SRR5091999</text>
<text transform="translate(457.1 981.4) rotate(90)">SRR5091997</text>
<text transform="translate(471.2 981.4) rotate(90)">SRR5091991</text>
<text transform="translate(485.4 981.4) rotate(90)">SRR5091967</text>
<text transform="translate(499.6 981.4) rotate(90)">SRR5091994</text>
<text transform="translate(513.8 981.4) rotate(90)">SRR5091966</text>
<text transform="translate(528.0 981.4) rotate(90)">SRR5091965</text>
<text transform="translate(542.2 981.4) rotate(90)">SRR5091975</text>
<text transform="translate(556.4 981.4) rotate(90)">SRR5091969</text>
<text transform="translate(570.5 981.4) rotate(90)">SRR5091984</text>
<text transform="translate(584.7 981.4) rotate(90)">SRR5091973</text>
<text transform="translate(598.9 981.4) rotate(90)">SRR5091976</text>
<rect x="657.3" y="83.2" width="11.7" height="176.3" fill="url(#g)"/>
<text x="673.8" y="264.7">0</text>
<text x="673.8" y="228.8">1</text>
<text x="673.8" y="193.3">2</text>
<text x="673.8" y="157.0">3</text>
<text x="673.8" y="121.1">4</text>
<rect x="651.1" y="615.7" width="11.9" height="175.8" fill="url(#g)"/>
<text x="667.7" y="796.5">0</text>
<text x="667.7" y="769.2">0.5</text>
<text x="667.7" y="741.2">1</text>
<text x="667.7" y="713.0">1.5</text>
<text x="667.7" y="684.7">2</text>
<text x="667.7" y="655.9">2.5</text>
<text x="667.7" y="627.7">3</text>
<text x="1.0" y="15.6" style="font-size:19.5px;font-weight:bold">(A)</text>
<text x="1.0" y="544.8" style="font-size:19.5px;font-weight:bold">(B)</text>
</g>
</svg>
</body></html>
